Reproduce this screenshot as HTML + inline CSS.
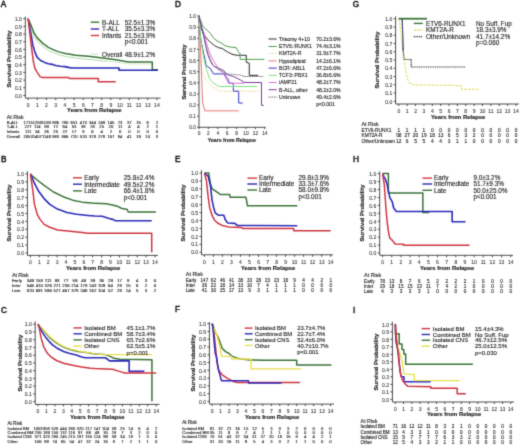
<!DOCTYPE html>
<html><head><meta charset="utf-8"><style>
html,body{margin:0;padding:0;background:#fff;width:520px;height:445px;overflow:hidden}
svg{display:block}
text{font-family:"Liberation Sans", sans-serif;stroke-width:0.12;paint-order:stroke}
</style></head><body>
<svg width="520" height="445" viewBox="0 0 520 445">
<defs><filter id="bl" filterUnits="userSpaceOnUse" x="0" y="0" width="520" height="445"><feConvolveMatrix order="3" kernelMatrix="0.0192 0.1001 0.0192 0.1001 0.5228 0.1001 0.0192 0.1001 0.0192" edgeMode="duplicate" preserveAlpha="false"/></filter></defs>
<rect width="520" height="445" fill="#fff"/>
<g filter="url(#bl)">
<line x1="25.30" y1="16.50" x2="25.30" y2="98.10" stroke="#3a3a3a" stroke-width="0.9" />
<line x1="25.30" y1="98.10" x2="160.50" y2="98.10" stroke="#3a3a3a" stroke-width="0.9" />
<line x1="23.30" y1="95.40" x2="25.30" y2="95.40" stroke="#3a3a3a" stroke-width="0.9" />
<text x="21.90" y="97.60" font-size="5.0" text-anchor="end" font-weight="normal" fill="#444" stroke="#444" >0.0</text>
<line x1="23.30" y1="87.73" x2="25.30" y2="87.73" stroke="#3a3a3a" stroke-width="0.9" />
<text x="21.90" y="89.93" font-size="5.0" text-anchor="end" font-weight="normal" fill="#444" stroke="#444" >0.1</text>
<line x1="23.30" y1="80.06" x2="25.30" y2="80.06" stroke="#3a3a3a" stroke-width="0.9" />
<text x="21.90" y="82.26" font-size="5.0" text-anchor="end" font-weight="normal" fill="#444" stroke="#444" >0.2</text>
<line x1="23.30" y1="72.39" x2="25.30" y2="72.39" stroke="#3a3a3a" stroke-width="0.9" />
<text x="21.90" y="74.59" font-size="5.0" text-anchor="end" font-weight="normal" fill="#444" stroke="#444" >0.3</text>
<line x1="23.30" y1="64.72" x2="25.30" y2="64.72" stroke="#3a3a3a" stroke-width="0.9" />
<text x="21.90" y="66.92" font-size="5.0" text-anchor="end" font-weight="normal" fill="#444" stroke="#444" >0.4</text>
<line x1="23.30" y1="57.05" x2="25.30" y2="57.05" stroke="#3a3a3a" stroke-width="0.9" />
<text x="21.90" y="59.25" font-size="5.0" text-anchor="end" font-weight="normal" fill="#444" stroke="#444" >0.5</text>
<line x1="23.30" y1="49.38" x2="25.30" y2="49.38" stroke="#3a3a3a" stroke-width="0.9" />
<text x="21.90" y="51.58" font-size="5.0" text-anchor="end" font-weight="normal" fill="#444" stroke="#444" >0.6</text>
<line x1="23.30" y1="41.71" x2="25.30" y2="41.71" stroke="#3a3a3a" stroke-width="0.9" />
<text x="21.90" y="43.91" font-size="5.0" text-anchor="end" font-weight="normal" fill="#444" stroke="#444" >0.7</text>
<line x1="23.30" y1="34.04" x2="25.30" y2="34.04" stroke="#3a3a3a" stroke-width="0.9" />
<text x="21.90" y="36.24" font-size="5.0" text-anchor="end" font-weight="normal" fill="#444" stroke="#444" >0.8</text>
<line x1="23.30" y1="26.37" x2="25.30" y2="26.37" stroke="#3a3a3a" stroke-width="0.9" />
<text x="21.90" y="28.57" font-size="5.0" text-anchor="end" font-weight="normal" fill="#444" stroke="#444" >0.9</text>
<line x1="23.30" y1="18.70" x2="25.30" y2="18.70" stroke="#3a3a3a" stroke-width="0.9" />
<text x="21.90" y="20.90" font-size="5.0" text-anchor="end" font-weight="normal" fill="#444" stroke="#444" >1.0</text>
<line x1="28.10" y1="98.10" x2="28.10" y2="100.10" stroke="#3a3a3a" stroke-width="0.9" />
<text x="28.10" y="106.80" font-size="5.0" text-anchor="middle" font-weight="normal" fill="#444" stroke="#444" >0</text>
<line x1="37.30" y1="98.10" x2="37.30" y2="100.10" stroke="#3a3a3a" stroke-width="0.9" />
<text x="37.30" y="106.80" font-size="5.0" text-anchor="middle" font-weight="normal" fill="#444" stroke="#444" >1</text>
<line x1="46.50" y1="98.10" x2="46.50" y2="100.10" stroke="#3a3a3a" stroke-width="0.9" />
<text x="46.50" y="106.80" font-size="5.0" text-anchor="middle" font-weight="normal" fill="#444" stroke="#444" >2</text>
<line x1="55.70" y1="98.10" x2="55.70" y2="100.10" stroke="#3a3a3a" stroke-width="0.9" />
<text x="55.70" y="106.80" font-size="5.0" text-anchor="middle" font-weight="normal" fill="#444" stroke="#444" >3</text>
<line x1="64.90" y1="98.10" x2="64.90" y2="100.10" stroke="#3a3a3a" stroke-width="0.9" />
<text x="64.90" y="106.80" font-size="5.0" text-anchor="middle" font-weight="normal" fill="#444" stroke="#444" >4</text>
<line x1="74.10" y1="98.10" x2="74.10" y2="100.10" stroke="#3a3a3a" stroke-width="0.9" />
<text x="74.10" y="106.80" font-size="5.0" text-anchor="middle" font-weight="normal" fill="#444" stroke="#444" >5</text>
<line x1="83.30" y1="98.10" x2="83.30" y2="100.10" stroke="#3a3a3a" stroke-width="0.9" />
<text x="83.30" y="106.80" font-size="5.0" text-anchor="middle" font-weight="normal" fill="#444" stroke="#444" >6</text>
<line x1="92.50" y1="98.10" x2="92.50" y2="100.10" stroke="#3a3a3a" stroke-width="0.9" />
<text x="92.50" y="106.80" font-size="5.0" text-anchor="middle" font-weight="normal" fill="#444" stroke="#444" >7</text>
<line x1="101.70" y1="98.10" x2="101.70" y2="100.10" stroke="#3a3a3a" stroke-width="0.9" />
<text x="101.70" y="106.80" font-size="5.0" text-anchor="middle" font-weight="normal" fill="#444" stroke="#444" >8</text>
<line x1="110.90" y1="98.10" x2="110.90" y2="100.10" stroke="#3a3a3a" stroke-width="0.9" />
<text x="110.90" y="106.80" font-size="5.0" text-anchor="middle" font-weight="normal" fill="#444" stroke="#444" >9</text>
<line x1="120.10" y1="98.10" x2="120.10" y2="100.10" stroke="#3a3a3a" stroke-width="0.9" />
<text x="120.10" y="106.80" font-size="5.0" text-anchor="middle" font-weight="normal" fill="#444" stroke="#444" >10</text>
<line x1="129.30" y1="98.10" x2="129.30" y2="100.10" stroke="#3a3a3a" stroke-width="0.9" />
<text x="129.30" y="106.80" font-size="5.0" text-anchor="middle" font-weight="normal" fill="#444" stroke="#444" >11</text>
<line x1="138.50" y1="98.10" x2="138.50" y2="100.10" stroke="#3a3a3a" stroke-width="0.9" />
<text x="138.50" y="106.80" font-size="5.0" text-anchor="middle" font-weight="normal" fill="#444" stroke="#444" >12</text>
<line x1="147.70" y1="98.10" x2="147.70" y2="100.10" stroke="#3a3a3a" stroke-width="0.9" />
<text x="147.70" y="106.80" font-size="5.0" text-anchor="middle" font-weight="normal" fill="#444" stroke="#444" >13</text>
<line x1="156.90" y1="98.10" x2="156.90" y2="100.10" stroke="#3a3a3a" stroke-width="0.9" />
<text x="156.90" y="106.80" font-size="5.0" text-anchor="middle" font-weight="normal" fill="#444" stroke="#444" >14</text>
<text x="94.30" y="112.31" font-size="5.86" text-anchor="middle" font-weight="bold" fill="#111" stroke="#111" >Years from Relapse</text>
<text x="0" y="0" font-size="6.1" font-weight="bold" text-anchor="middle" fill="#111" stroke="#111" transform="translate(11.00,59.00) rotate(-90)">Survival Probability</text>
<text x="0.80" y="6.60" font-size="8.2" text-anchor="start" font-weight="normal" fill="#111"  stroke="#111" style="stroke-width:0.45">A</text>
<path d="M28.10,18.70 L31.14,28.29 L33.90,35.96 L37.21,41.10 L42.82,46.70 L48.34,50.45 L54.14,53.06 L59.66,55.06 L65.27,56.36 L69.96,57.20 L75.39,58.05 L88.27,59.35 L106.48,61.27" fill="none" stroke="#a8d8a0" stroke-width="0.9" stroke-linejoin="round"  opacity="1"/>
<path d="M106.48,61.12 L128.38,63.95 L152.30,63.95" fill="none" stroke="#a8d8a0" stroke-width="1.0" stroke-linejoin="round" stroke-dasharray="1,0.8" opacity="1"/>
<path d="M28.10,18.70 L31.14,25.60 L33.90,32.74 L37.21,37.88 L42.82,43.40 L48.34,47.31 L54.14,50.15 L59.66,52.14 L65.27,53.45 L69.96,54.29 L75.39,55.21 L88.27,56.28 L106.48,58.43 L115.68,59.81 L128.38,62.04 L152.30,62.04 L152.30,69.71 L157.82,69.71" fill="none" stroke="#3b7439" stroke-width="1.5" stroke-linejoin="round"  opacity="1"/>
<path d="M28.10,18.70 L29.39,25.60 L31.14,34.42 L32.70,44.47 L35.00,52.37 L37.21,57.43 L40.61,60.50 L45.12,62.65 L48.34,63.80 L52.02,64.34 L55.70,65.49 L60.30,66.25 L64.90,66.64 L69.50,67.63 L74.10,67.94 L119.00,67.94 L119.00,70.24 L157.82,70.24" fill="none" stroke="#2a2ab6" stroke-width="1.6" stroke-linejoin="round"  opacity="1"/>
<path d="M28.10,18.70 L29.94,34.04 L31.60,47.85 L33.34,61.35 L35.00,68.56 L37.30,72.39 L40.06,76.61 L41.90,77.38 L68.58,77.61 L69.96,78.53 L98.30,78.53 L98.30,81.75 L115.68,81.75" fill="none" stroke="#d03641" stroke-width="1.5" stroke-linejoin="round"  opacity="1"/>
<line x1="90.80" y1="22.20" x2="99.10" y2="22.20" stroke="#3b7439" stroke-width="1.4" />
<text x="102.00" y="24.50" font-size="6.4" text-anchor="start" font-weight="normal" fill="#222" stroke="#222" >B-ALL</text>
<text x="124.70" y="24.50" font-size="6.4" text-anchor="start" font-weight="normal" fill="#222" stroke="#222" >52.5±1.3%</text>
<line x1="90.80" y1="29.00" x2="99.10" y2="29.00" stroke="#2a2ab6" stroke-width="1.4" />
<text x="102.00" y="31.30" font-size="6.4" text-anchor="start" font-weight="normal" fill="#222" stroke="#222" >T-ALL</text>
<text x="124.70" y="31.30" font-size="6.4" text-anchor="start" font-weight="normal" fill="#222" stroke="#222" >35.5±3.3%</text>
<line x1="90.80" y1="35.50" x2="99.10" y2="35.50" stroke="#d03641" stroke-width="1.4" />
<text x="102.00" y="37.80" font-size="6.4" text-anchor="start" font-weight="normal" fill="#222" stroke="#222" >Infants</text>
<text x="124.70" y="37.80" font-size="6.4" text-anchor="start" font-weight="normal" fill="#222" stroke="#222" >21.5±3.9%</text>
<text x="124.70" y="44.00" font-size="6.4" text-anchor="start" font-weight="normal" fill="#222" stroke="#222" >p&lt;0.001</text>
<line x1="90.80" y1="54.20" x2="99.10" y2="54.20" stroke="#a8d8a0" stroke-width="1.0" stroke-dasharray="1.2,0.8"/>
<text x="102.00" y="56.50" font-size="6.4" text-anchor="start" font-weight="normal" fill="#222" stroke="#222" >Overall</text>
<text x="124.70" y="56.50" font-size="6.4" text-anchor="start" font-weight="normal" fill="#222" stroke="#222" >48.9±1.2%</text>
<text x="6.80" y="118.71" font-size="5.3" text-anchor="start" font-weight="normal" fill="#222" stroke="#222" >At Risk</text>
<text x="6.80" y="124.11" font-size="4.2" text-anchor="start" font-weight="normal" fill="#222" stroke="#222" >B-ALL</text>
<text x="28.10" y="124.11" font-size="4.2" text-anchor="middle" font-weight="normal" fill="#222" stroke="#222" >1715</text>
<text x="37.30" y="124.11" font-size="4.2" text-anchor="middle" font-weight="normal" fill="#222" stroke="#222" >1259</text>
<text x="46.50" y="124.11" font-size="4.2" text-anchor="middle" font-weight="normal" fill="#222" stroke="#222" >1033</text>
<text x="55.70" y="124.11" font-size="4.2" text-anchor="middle" font-weight="normal" fill="#222" stroke="#222" >886</text>
<text x="64.90" y="124.11" font-size="4.2" text-anchor="middle" font-weight="normal" fill="#222" stroke="#222" >780</text>
<text x="74.10" y="124.11" font-size="4.2" text-anchor="middle" font-weight="normal" fill="#222" stroke="#222" >651</text>
<text x="83.30" y="124.11" font-size="4.2" text-anchor="middle" font-weight="normal" fill="#222" stroke="#222" >473</text>
<text x="92.50" y="124.11" font-size="4.2" text-anchor="middle" font-weight="normal" fill="#222" stroke="#222" >344</text>
<text x="101.70" y="124.11" font-size="4.2" text-anchor="middle" font-weight="normal" fill="#222" stroke="#222" >249</text>
<text x="110.90" y="124.11" font-size="4.2" text-anchor="middle" font-weight="normal" fill="#222" stroke="#222" >145</text>
<text x="120.10" y="124.11" font-size="4.2" text-anchor="middle" font-weight="normal" fill="#222" stroke="#222" >73</text>
<text x="129.30" y="124.11" font-size="4.2" text-anchor="middle" font-weight="normal" fill="#222" stroke="#222" >37</text>
<text x="138.50" y="124.11" font-size="4.2" text-anchor="middle" font-weight="normal" fill="#222" stroke="#222" >15</text>
<text x="147.70" y="124.11" font-size="4.2" text-anchor="middle" font-weight="normal" fill="#222" stroke="#222" >6</text>
<text x="156.90" y="124.11" font-size="4.2" text-anchor="middle" font-weight="normal" fill="#222" stroke="#222" >2</text>
<text x="6.80" y="128.41" font-size="4.2" text-anchor="start" font-weight="normal" fill="#222" stroke="#222" >T-ALL</text>
<text x="28.10" y="128.41" font-size="4.2" text-anchor="middle" font-weight="normal" fill="#222" stroke="#222" >227</text>
<text x="37.30" y="128.41" font-size="4.2" text-anchor="middle" font-weight="normal" fill="#222" stroke="#222" >114</text>
<text x="46.50" y="128.41" font-size="4.2" text-anchor="middle" font-weight="normal" fill="#222" stroke="#222" >89</text>
<text x="55.70" y="128.41" font-size="4.2" text-anchor="middle" font-weight="normal" fill="#222" stroke="#222" >72</text>
<text x="64.90" y="128.41" font-size="4.2" text-anchor="middle" font-weight="normal" fill="#222" stroke="#222" >64</text>
<text x="74.10" y="128.41" font-size="4.2" text-anchor="middle" font-weight="normal" fill="#222" stroke="#222" >53</text>
<text x="83.30" y="128.41" font-size="4.2" text-anchor="middle" font-weight="normal" fill="#222" stroke="#222" >38</text>
<text x="92.50" y="128.41" font-size="4.2" text-anchor="middle" font-weight="normal" fill="#222" stroke="#222" >28</text>
<text x="101.70" y="128.41" font-size="4.2" text-anchor="middle" font-weight="normal" fill="#222" stroke="#222" >25</text>
<text x="110.90" y="128.41" font-size="4.2" text-anchor="middle" font-weight="normal" fill="#222" stroke="#222" >20</text>
<text x="120.10" y="128.41" font-size="4.2" text-anchor="middle" font-weight="normal" fill="#222" stroke="#222" >11</text>
<text x="129.30" y="128.41" font-size="4.2" text-anchor="middle" font-weight="normal" fill="#222" stroke="#222" >4</text>
<text x="138.50" y="128.41" font-size="4.2" text-anchor="middle" font-weight="normal" fill="#222" stroke="#222" >4</text>
<text x="147.70" y="128.41" font-size="4.2" text-anchor="middle" font-weight="normal" fill="#222" stroke="#222" >2</text>
<text x="156.90" y="128.41" font-size="4.2" text-anchor="middle" font-weight="normal" fill="#222" stroke="#222" >1</text>
<text x="6.80" y="133.11" font-size="4.2" text-anchor="start" font-weight="normal" fill="#222" stroke="#222" >Infants</text>
<text x="28.10" y="133.11" font-size="4.2" text-anchor="middle" font-weight="normal" fill="#222" stroke="#222" >111</text>
<text x="37.30" y="133.11" font-size="4.2" text-anchor="middle" font-weight="normal" fill="#222" stroke="#222" >34</text>
<text x="46.50" y="133.11" font-size="4.2" text-anchor="middle" font-weight="normal" fill="#222" stroke="#222" >26</text>
<text x="55.70" y="133.11" font-size="4.2" text-anchor="middle" font-weight="normal" fill="#222" stroke="#222" >25</text>
<text x="64.90" y="133.11" font-size="4.2" text-anchor="middle" font-weight="normal" fill="#222" stroke="#222" >22</text>
<text x="74.10" y="133.11" font-size="4.2" text-anchor="middle" font-weight="normal" fill="#222" stroke="#222" >17</text>
<text x="83.30" y="133.11" font-size="4.2" text-anchor="middle" font-weight="normal" fill="#222" stroke="#222" >8</text>
<text x="92.50" y="133.11" font-size="4.2" text-anchor="middle" font-weight="normal" fill="#222" stroke="#222" >6</text>
<text x="101.70" y="133.11" font-size="4.2" text-anchor="middle" font-weight="normal" fill="#222" stroke="#222" >4</text>
<text x="110.90" y="133.11" font-size="4.2" text-anchor="middle" font-weight="normal" fill="#222" stroke="#222" >2</text>
<text x="120.10" y="133.11" font-size="4.2" text-anchor="middle" font-weight="normal" fill="#222" stroke="#222" >0</text>
<text x="129.30" y="133.11" font-size="4.2" text-anchor="middle" font-weight="normal" fill="#222" stroke="#222" >0</text>
<text x="138.50" y="133.11" font-size="4.2" text-anchor="middle" font-weight="normal" fill="#222" stroke="#222" >0</text>
<text x="147.70" y="133.11" font-size="4.2" text-anchor="middle" font-weight="normal" fill="#222" stroke="#222" >0</text>
<text x="156.90" y="133.11" font-size="4.2" text-anchor="middle" font-weight="normal" fill="#222" stroke="#222" >0</text>
<text x="6.80" y="138.01" font-size="4.2" text-anchor="start" font-weight="normal" fill="#222" stroke="#222" >Overall</text>
<text x="28.10" y="138.01" font-size="4.2" text-anchor="middle" font-weight="normal" fill="#222" stroke="#222" >2053</text>
<text x="37.30" y="138.01" font-size="4.2" text-anchor="middle" font-weight="normal" fill="#222" stroke="#222" >1407</text>
<text x="46.50" y="138.01" font-size="4.2" text-anchor="middle" font-weight="normal" fill="#222" stroke="#222" >1148</text>
<text x="55.70" y="138.01" font-size="4.2" text-anchor="middle" font-weight="normal" fill="#222" stroke="#222" >983</text>
<text x="64.90" y="138.01" font-size="4.2" text-anchor="middle" font-weight="normal" fill="#222" stroke="#222" >866</text>
<text x="74.10" y="138.01" font-size="4.2" text-anchor="middle" font-weight="normal" fill="#222" stroke="#222" >720</text>
<text x="83.30" y="138.01" font-size="4.2" text-anchor="middle" font-weight="normal" fill="#222" stroke="#222" >520</text>
<text x="92.50" y="138.01" font-size="4.2" text-anchor="middle" font-weight="normal" fill="#222" stroke="#222" >378</text>
<text x="101.70" y="138.01" font-size="4.2" text-anchor="middle" font-weight="normal" fill="#222" stroke="#222" >278</text>
<text x="110.90" y="138.01" font-size="4.2" text-anchor="middle" font-weight="normal" fill="#222" stroke="#222" >167</text>
<text x="120.10" y="138.01" font-size="4.2" text-anchor="middle" font-weight="normal" fill="#222" stroke="#222" >84</text>
<text x="129.30" y="138.01" font-size="4.2" text-anchor="middle" font-weight="normal" fill="#222" stroke="#222" >41</text>
<text x="138.50" y="138.01" font-size="4.2" text-anchor="middle" font-weight="normal" fill="#222" stroke="#222" >19</text>
<text x="147.70" y="138.01" font-size="4.2" text-anchor="middle" font-weight="normal" fill="#222" stroke="#222" >10</text>
<text x="156.90" y="138.01" font-size="4.2" text-anchor="middle" font-weight="normal" fill="#222" stroke="#222" >3</text>
<line x1="27.40" y1="171.20" x2="27.40" y2="255.40" stroke="#3a3a3a" stroke-width="0.9" />
<line x1="27.40" y1="255.40" x2="158.00" y2="255.40" stroke="#3a3a3a" stroke-width="0.9" />
<line x1="25.40" y1="253.00" x2="27.40" y2="253.00" stroke="#3a3a3a" stroke-width="0.9" />
<text x="24.00" y="255.20" font-size="5.0" text-anchor="end" font-weight="normal" fill="#444" stroke="#444" >0.0</text>
<line x1="25.40" y1="245.09" x2="27.40" y2="245.09" stroke="#3a3a3a" stroke-width="0.9" />
<text x="24.00" y="247.29" font-size="5.0" text-anchor="end" font-weight="normal" fill="#444" stroke="#444" >0.1</text>
<line x1="25.40" y1="237.18" x2="27.40" y2="237.18" stroke="#3a3a3a" stroke-width="0.9" />
<text x="24.00" y="239.38" font-size="5.0" text-anchor="end" font-weight="normal" fill="#444" stroke="#444" >0.2</text>
<line x1="25.40" y1="229.27" x2="27.40" y2="229.27" stroke="#3a3a3a" stroke-width="0.9" />
<text x="24.00" y="231.47" font-size="5.0" text-anchor="end" font-weight="normal" fill="#444" stroke="#444" >0.3</text>
<line x1="25.40" y1="221.36" x2="27.40" y2="221.36" stroke="#3a3a3a" stroke-width="0.9" />
<text x="24.00" y="223.56" font-size="5.0" text-anchor="end" font-weight="normal" fill="#444" stroke="#444" >0.4</text>
<line x1="25.40" y1="213.45" x2="27.40" y2="213.45" stroke="#3a3a3a" stroke-width="0.9" />
<text x="24.00" y="215.65" font-size="5.0" text-anchor="end" font-weight="normal" fill="#444" stroke="#444" >0.5</text>
<line x1="25.40" y1="205.54" x2="27.40" y2="205.54" stroke="#3a3a3a" stroke-width="0.9" />
<text x="24.00" y="207.74" font-size="5.0" text-anchor="end" font-weight="normal" fill="#444" stroke="#444" >0.6</text>
<line x1="25.40" y1="197.63" x2="27.40" y2="197.63" stroke="#3a3a3a" stroke-width="0.9" />
<text x="24.00" y="199.83" font-size="5.0" text-anchor="end" font-weight="normal" fill="#444" stroke="#444" >0.7</text>
<line x1="25.40" y1="189.72" x2="27.40" y2="189.72" stroke="#3a3a3a" stroke-width="0.9" />
<text x="24.00" y="191.92" font-size="5.0" text-anchor="end" font-weight="normal" fill="#444" stroke="#444" >0.8</text>
<line x1="25.40" y1="181.81" x2="27.40" y2="181.81" stroke="#3a3a3a" stroke-width="0.9" />
<text x="24.00" y="184.01" font-size="5.0" text-anchor="end" font-weight="normal" fill="#444" stroke="#444" >0.9</text>
<line x1="25.40" y1="173.90" x2="27.40" y2="173.90" stroke="#3a3a3a" stroke-width="0.9" />
<text x="24.00" y="176.10" font-size="5.0" text-anchor="end" font-weight="normal" fill="#444" stroke="#444" >1.0</text>
<line x1="30.40" y1="255.40" x2="30.40" y2="257.40" stroke="#3a3a3a" stroke-width="0.9" />
<text x="30.40" y="264.00" font-size="5.0" text-anchor="middle" font-weight="normal" fill="#444" stroke="#444" >0</text>
<line x1="39.30" y1="255.40" x2="39.30" y2="257.40" stroke="#3a3a3a" stroke-width="0.9" />
<text x="39.30" y="264.00" font-size="5.0" text-anchor="middle" font-weight="normal" fill="#444" stroke="#444" >1</text>
<line x1="48.20" y1="255.40" x2="48.20" y2="257.40" stroke="#3a3a3a" stroke-width="0.9" />
<text x="48.20" y="264.00" font-size="5.0" text-anchor="middle" font-weight="normal" fill="#444" stroke="#444" >2</text>
<line x1="57.10" y1="255.40" x2="57.10" y2="257.40" stroke="#3a3a3a" stroke-width="0.9" />
<text x="57.10" y="264.00" font-size="5.0" text-anchor="middle" font-weight="normal" fill="#444" stroke="#444" >3</text>
<line x1="66.00" y1="255.40" x2="66.00" y2="257.40" stroke="#3a3a3a" stroke-width="0.9" />
<text x="66.00" y="264.00" font-size="5.0" text-anchor="middle" font-weight="normal" fill="#444" stroke="#444" >4</text>
<line x1="74.90" y1="255.40" x2="74.90" y2="257.40" stroke="#3a3a3a" stroke-width="0.9" />
<text x="74.90" y="264.00" font-size="5.0" text-anchor="middle" font-weight="normal" fill="#444" stroke="#444" >5</text>
<line x1="83.80" y1="255.40" x2="83.80" y2="257.40" stroke="#3a3a3a" stroke-width="0.9" />
<text x="83.80" y="264.00" font-size="5.0" text-anchor="middle" font-weight="normal" fill="#444" stroke="#444" >6</text>
<line x1="92.70" y1="255.40" x2="92.70" y2="257.40" stroke="#3a3a3a" stroke-width="0.9" />
<text x="92.70" y="264.00" font-size="5.0" text-anchor="middle" font-weight="normal" fill="#444" stroke="#444" >7</text>
<line x1="101.60" y1="255.40" x2="101.60" y2="257.40" stroke="#3a3a3a" stroke-width="0.9" />
<text x="101.60" y="264.00" font-size="5.0" text-anchor="middle" font-weight="normal" fill="#444" stroke="#444" >8</text>
<line x1="110.50" y1="255.40" x2="110.50" y2="257.40" stroke="#3a3a3a" stroke-width="0.9" />
<text x="110.50" y="264.00" font-size="5.0" text-anchor="middle" font-weight="normal" fill="#444" stroke="#444" >9</text>
<line x1="119.40" y1="255.40" x2="119.40" y2="257.40" stroke="#3a3a3a" stroke-width="0.9" />
<text x="119.40" y="264.00" font-size="5.0" text-anchor="middle" font-weight="normal" fill="#444" stroke="#444" >10</text>
<line x1="128.30" y1="255.40" x2="128.30" y2="257.40" stroke="#3a3a3a" stroke-width="0.9" />
<text x="128.30" y="264.00" font-size="5.0" text-anchor="middle" font-weight="normal" fill="#444" stroke="#444" >11</text>
<line x1="137.20" y1="255.40" x2="137.20" y2="257.40" stroke="#3a3a3a" stroke-width="0.9" />
<text x="137.20" y="264.00" font-size="5.0" text-anchor="middle" font-weight="normal" fill="#444" stroke="#444" >12</text>
<line x1="146.10" y1="255.40" x2="146.10" y2="257.40" stroke="#3a3a3a" stroke-width="0.9" />
<text x="146.10" y="264.00" font-size="5.0" text-anchor="middle" font-weight="normal" fill="#444" stroke="#444" >13</text>
<line x1="155.00" y1="255.40" x2="155.00" y2="257.40" stroke="#3a3a3a" stroke-width="0.9" />
<text x="155.00" y="264.00" font-size="5.0" text-anchor="middle" font-weight="normal" fill="#444" stroke="#444" >14</text>
<text x="93.10" y="270.11" font-size="5.86" text-anchor="middle" font-weight="bold" fill="#111" stroke="#111" >Years from Relapse</text>
<text x="0" y="0" font-size="6.1" font-weight="bold" text-anchor="middle" fill="#111" stroke="#111" transform="translate(11.30,213.00) rotate(-90)">Survival Probability</text>
<text x="0.90" y="161.60" font-size="8.2" text-anchor="start" font-weight="normal" fill="#111"  stroke="#111" style="stroke-width:0.45">B</text>
<path d="M30.40,173.90 L33.07,176.67 L36.54,179.52 L44.11,185.29 L53.54,192.01 L63.15,196.68 L72.67,200.16 L82.29,202.14 L91.81,203.01 L95.01,203.17 L106.32,203.80 L113.44,205.22 L117.62,206.33 L121.89,208.47 L126.88,209.18 L128.30,212.03 L155.89,212.03" fill="none" stroke="#3b7439" stroke-width="1.5" stroke-linejoin="round"  opacity="1"/>
<path d="M30.40,173.90 L34.49,183.39 L38.41,190.99 L44.11,198.58 L49.80,204.43 L57.46,209.10 L66.98,212.42 L76.59,214.32 L87.98,215.43 L95.01,215.98 L102.13,216.30 L109.16,218.43 L112.72,219.38 L115.48,220.81 L151.71,220.81" fill="none" stroke="#2a2ab6" stroke-width="1.6" stroke-linejoin="round"  opacity="1"/>
<path d="M30.40,173.90 L32.62,189.09 L34.49,204.43 L37.43,214.87 L40.28,219.62 L44.11,224.37 L49.80,227.29 L57.46,230.06 L72.67,231.48 L82.29,232.59 L87.98,233.30 L151.71,233.30 L151.71,252.37" fill="none" stroke="#d03641" stroke-width="1.5" stroke-linejoin="round"  opacity="1"/>
<line x1="73.00" y1="177.80" x2="81.90" y2="177.80" stroke="#d03641" stroke-width="1.4" />
<text x="84.30" y="180.10" font-size="6.4" text-anchor="start" font-weight="normal" fill="#222" stroke="#222" >Early</text>
<text x="123.80" y="180.10" font-size="6.4" text-anchor="start" font-weight="normal" fill="#222" stroke="#222" >25.8±2.4%</text>
<line x1="73.00" y1="184.20" x2="81.90" y2="184.20" stroke="#2a2ab6" stroke-width="1.4" />
<text x="84.30" y="186.50" font-size="6.4" text-anchor="start" font-weight="normal" fill="#222" stroke="#222" >Intermediate</text>
<text x="123.80" y="186.50" font-size="6.4" text-anchor="start" font-weight="normal" fill="#222" stroke="#222" >49.5±2.2%</text>
<line x1="73.00" y1="190.90" x2="81.90" y2="190.90" stroke="#3b7439" stroke-width="1.4" />
<text x="84.30" y="193.20" font-size="6.4" text-anchor="start" font-weight="normal" fill="#222" stroke="#222" >Late</text>
<text x="123.80" y="193.20" font-size="6.4" text-anchor="start" font-weight="normal" fill="#222" stroke="#222" >66.4±1.8%</text>
<text x="123.80" y="199.80" font-size="6.4" text-anchor="start" font-weight="normal" fill="#222" stroke="#222" >p&lt;0.001</text>
<text x="11.90" y="277.01" font-size="5.3" text-anchor="start" font-weight="normal" fill="#222" stroke="#222" >At Risk</text>
<text x="11.90" y="282.28" font-size="4.4" text-anchor="start" font-weight="normal" fill="#222" stroke="#222" >Early</text>
<text x="30.40" y="282.28" font-size="4.4" text-anchor="middle" font-weight="normal" fill="#222" stroke="#222" >349</text>
<text x="39.30" y="282.28" font-size="4.4" text-anchor="middle" font-weight="normal" fill="#222" stroke="#222" >158</text>
<text x="48.20" y="282.28" font-size="4.4" text-anchor="middle" font-weight="normal" fill="#222" stroke="#222" >111</text>
<text x="57.10" y="282.28" font-size="4.4" text-anchor="middle" font-weight="normal" fill="#222" stroke="#222" >88</text>
<text x="66.00" y="282.28" font-size="4.4" text-anchor="middle" font-weight="normal" fill="#222" stroke="#222" >77</text>
<text x="74.90" y="282.28" font-size="4.4" text-anchor="middle" font-weight="normal" fill="#222" stroke="#222" >59</text>
<text x="83.80" y="282.28" font-size="4.4" text-anchor="middle" font-weight="normal" fill="#222" stroke="#222" >49</text>
<text x="92.70" y="282.28" font-size="4.4" text-anchor="middle" font-weight="normal" fill="#222" stroke="#222" >39</text>
<text x="101.60" y="282.28" font-size="4.4" text-anchor="middle" font-weight="normal" fill="#222" stroke="#222" >36</text>
<text x="110.50" y="282.28" font-size="4.4" text-anchor="middle" font-weight="normal" fill="#222" stroke="#222" >29</text>
<text x="119.40" y="282.28" font-size="4.4" text-anchor="middle" font-weight="normal" fill="#222" stroke="#222" >17</text>
<text x="128.30" y="282.28" font-size="4.4" text-anchor="middle" font-weight="normal" fill="#222" stroke="#222" >8</text>
<text x="137.20" y="282.28" font-size="4.4" text-anchor="middle" font-weight="normal" fill="#222" stroke="#222" >4</text>
<text x="146.10" y="282.28" font-size="4.4" text-anchor="middle" font-weight="normal" fill="#222" stroke="#222" >3</text>
<text x="155.00" y="282.28" font-size="4.4" text-anchor="middle" font-weight="normal" fill="#222" stroke="#222" >0</text>
<text x="11.90" y="287.38" font-size="4.4" text-anchor="start" font-weight="normal" fill="#222" stroke="#222" >Inter</text>
<text x="30.40" y="287.38" font-size="4.4" text-anchor="middle" font-weight="normal" fill="#222" stroke="#222" >546</text>
<text x="39.30" y="287.38" font-size="4.4" text-anchor="middle" font-weight="normal" fill="#222" stroke="#222" >410</text>
<text x="48.20" y="287.38" font-size="4.4" text-anchor="middle" font-weight="normal" fill="#222" stroke="#222" >326</text>
<text x="57.10" y="287.38" font-size="4.4" text-anchor="middle" font-weight="normal" fill="#222" stroke="#222" >271</text>
<text x="66.00" y="287.38" font-size="4.4" text-anchor="middle" font-weight="normal" fill="#222" stroke="#222" >236</text>
<text x="74.90" y="287.38" font-size="4.4" text-anchor="middle" font-weight="normal" fill="#222" stroke="#222" >214</text>
<text x="83.80" y="287.38" font-size="4.4" text-anchor="middle" font-weight="normal" fill="#222" stroke="#222" >178</text>
<text x="92.70" y="287.38" font-size="4.4" text-anchor="middle" font-weight="normal" fill="#222" stroke="#222" >143</text>
<text x="101.60" y="287.38" font-size="4.4" text-anchor="middle" font-weight="normal" fill="#222" stroke="#222" >109</text>
<text x="110.50" y="287.38" font-size="4.4" text-anchor="middle" font-weight="normal" fill="#222" stroke="#222" >64</text>
<text x="119.40" y="287.38" font-size="4.4" text-anchor="middle" font-weight="normal" fill="#222" stroke="#222" >28</text>
<text x="128.30" y="287.38" font-size="4.4" text-anchor="middle" font-weight="normal" fill="#222" stroke="#222" >15</text>
<text x="137.20" y="287.38" font-size="4.4" text-anchor="middle" font-weight="normal" fill="#222" stroke="#222" >6</text>
<text x="146.10" y="287.38" font-size="4.4" text-anchor="middle" font-weight="normal" fill="#222" stroke="#222" >2</text>
<text x="155.00" y="287.38" font-size="4.4" text-anchor="middle" font-weight="normal" fill="#222" stroke="#222" >0</text>
<text x="11.90" y="292.28" font-size="4.4" text-anchor="start" font-weight="normal" fill="#222" stroke="#222" >Late</text>
<text x="30.40" y="292.28" font-size="4.4" text-anchor="middle" font-weight="normal" fill="#222" stroke="#222" >820</text>
<text x="39.30" y="292.28" font-size="4.4" text-anchor="middle" font-weight="normal" fill="#222" stroke="#222" >691</text>
<text x="48.20" y="292.28" font-size="4.4" text-anchor="middle" font-weight="normal" fill="#222" stroke="#222" >596</text>
<text x="57.10" y="292.28" font-size="4.4" text-anchor="middle" font-weight="normal" fill="#222" stroke="#222" >527</text>
<text x="66.00" y="292.28" font-size="4.4" text-anchor="middle" font-weight="normal" fill="#222" stroke="#222" >467</text>
<text x="74.90" y="292.28" font-size="4.4" text-anchor="middle" font-weight="normal" fill="#222" stroke="#222" >378</text>
<text x="83.80" y="292.28" font-size="4.4" text-anchor="middle" font-weight="normal" fill="#222" stroke="#222" >246</text>
<text x="92.70" y="292.28" font-size="4.4" text-anchor="middle" font-weight="normal" fill="#222" stroke="#222" >162</text>
<text x="101.60" y="292.28" font-size="4.4" text-anchor="middle" font-weight="normal" fill="#222" stroke="#222" >104</text>
<text x="110.50" y="292.28" font-size="4.4" text-anchor="middle" font-weight="normal" fill="#222" stroke="#222" >52</text>
<text x="119.40" y="292.28" font-size="4.4" text-anchor="middle" font-weight="normal" fill="#222" stroke="#222" >28</text>
<text x="128.30" y="292.28" font-size="4.4" text-anchor="middle" font-weight="normal" fill="#222" stroke="#222" >14</text>
<text x="137.20" y="292.28" font-size="4.4" text-anchor="middle" font-weight="normal" fill="#222" stroke="#222" >5</text>
<text x="146.10" y="292.28" font-size="4.4" text-anchor="middle" font-weight="normal" fill="#222" stroke="#222" >3</text>
<text x="155.00" y="292.28" font-size="4.4" text-anchor="middle" font-weight="normal" fill="#222" stroke="#222" >2</text>
<line x1="35.20" y1="321.30" x2="35.20" y2="404.40" stroke="#3a3a3a" stroke-width="0.9" />
<line x1="35.20" y1="404.40" x2="159.50" y2="404.40" stroke="#3a3a3a" stroke-width="0.9" />
<line x1="33.20" y1="401.60" x2="35.20" y2="401.60" stroke="#3a3a3a" stroke-width="0.9" />
<text x="31.80" y="403.80" font-size="5.0" text-anchor="end" font-weight="normal" fill="#444" stroke="#444" >0.0</text>
<line x1="33.20" y1="393.86" x2="35.20" y2="393.86" stroke="#3a3a3a" stroke-width="0.9" />
<text x="31.80" y="396.06" font-size="5.0" text-anchor="end" font-weight="normal" fill="#444" stroke="#444" >0.1</text>
<line x1="33.20" y1="386.12" x2="35.20" y2="386.12" stroke="#3a3a3a" stroke-width="0.9" />
<text x="31.80" y="388.32" font-size="5.0" text-anchor="end" font-weight="normal" fill="#444" stroke="#444" >0.2</text>
<line x1="33.20" y1="378.38" x2="35.20" y2="378.38" stroke="#3a3a3a" stroke-width="0.9" />
<text x="31.80" y="380.58" font-size="5.0" text-anchor="end" font-weight="normal" fill="#444" stroke="#444" >0.3</text>
<line x1="33.20" y1="370.64" x2="35.20" y2="370.64" stroke="#3a3a3a" stroke-width="0.9" />
<text x="31.80" y="372.84" font-size="5.0" text-anchor="end" font-weight="normal" fill="#444" stroke="#444" >0.4</text>
<line x1="33.20" y1="362.90" x2="35.20" y2="362.90" stroke="#3a3a3a" stroke-width="0.9" />
<text x="31.80" y="365.10" font-size="5.0" text-anchor="end" font-weight="normal" fill="#444" stroke="#444" >0.5</text>
<line x1="33.20" y1="355.16" x2="35.20" y2="355.16" stroke="#3a3a3a" stroke-width="0.9" />
<text x="31.80" y="357.36" font-size="5.0" text-anchor="end" font-weight="normal" fill="#444" stroke="#444" >0.6</text>
<line x1="33.20" y1="347.42" x2="35.20" y2="347.42" stroke="#3a3a3a" stroke-width="0.9" />
<text x="31.80" y="349.62" font-size="5.0" text-anchor="end" font-weight="normal" fill="#444" stroke="#444" >0.7</text>
<line x1="33.20" y1="339.68" x2="35.20" y2="339.68" stroke="#3a3a3a" stroke-width="0.9" />
<text x="31.80" y="341.88" font-size="5.0" text-anchor="end" font-weight="normal" fill="#444" stroke="#444" >0.8</text>
<line x1="33.20" y1="331.94" x2="35.20" y2="331.94" stroke="#3a3a3a" stroke-width="0.9" />
<text x="31.80" y="334.14" font-size="5.0" text-anchor="end" font-weight="normal" fill="#444" stroke="#444" >0.9</text>
<line x1="33.20" y1="324.20" x2="35.20" y2="324.20" stroke="#3a3a3a" stroke-width="0.9" />
<text x="31.80" y="326.40" font-size="5.0" text-anchor="end" font-weight="normal" fill="#444" stroke="#444" >1.0</text>
<line x1="38.00" y1="404.40" x2="38.00" y2="406.40" stroke="#3a3a3a" stroke-width="0.9" />
<text x="38.00" y="413.10" font-size="5.0" text-anchor="middle" font-weight="normal" fill="#444" stroke="#444" >0</text>
<line x1="46.44" y1="404.40" x2="46.44" y2="406.40" stroke="#3a3a3a" stroke-width="0.9" />
<text x="46.44" y="413.10" font-size="5.0" text-anchor="middle" font-weight="normal" fill="#444" stroke="#444" >1</text>
<line x1="54.88" y1="404.40" x2="54.88" y2="406.40" stroke="#3a3a3a" stroke-width="0.9" />
<text x="54.88" y="413.10" font-size="5.0" text-anchor="middle" font-weight="normal" fill="#444" stroke="#444" >2</text>
<line x1="63.32" y1="404.40" x2="63.32" y2="406.40" stroke="#3a3a3a" stroke-width="0.9" />
<text x="63.32" y="413.10" font-size="5.0" text-anchor="middle" font-weight="normal" fill="#444" stroke="#444" >3</text>
<line x1="71.76" y1="404.40" x2="71.76" y2="406.40" stroke="#3a3a3a" stroke-width="0.9" />
<text x="71.76" y="413.10" font-size="5.0" text-anchor="middle" font-weight="normal" fill="#444" stroke="#444" >4</text>
<line x1="80.20" y1="404.40" x2="80.20" y2="406.40" stroke="#3a3a3a" stroke-width="0.9" />
<text x="80.20" y="413.10" font-size="5.0" text-anchor="middle" font-weight="normal" fill="#444" stroke="#444" >5</text>
<line x1="88.64" y1="404.40" x2="88.64" y2="406.40" stroke="#3a3a3a" stroke-width="0.9" />
<text x="88.64" y="413.10" font-size="5.0" text-anchor="middle" font-weight="normal" fill="#444" stroke="#444" >6</text>
<line x1="97.08" y1="404.40" x2="97.08" y2="406.40" stroke="#3a3a3a" stroke-width="0.9" />
<text x="97.08" y="413.10" font-size="5.0" text-anchor="middle" font-weight="normal" fill="#444" stroke="#444" >7</text>
<line x1="105.52" y1="404.40" x2="105.52" y2="406.40" stroke="#3a3a3a" stroke-width="0.9" />
<text x="105.52" y="413.10" font-size="5.0" text-anchor="middle" font-weight="normal" fill="#444" stroke="#444" >8</text>
<line x1="113.96" y1="404.40" x2="113.96" y2="406.40" stroke="#3a3a3a" stroke-width="0.9" />
<text x="113.96" y="413.10" font-size="5.0" text-anchor="middle" font-weight="normal" fill="#444" stroke="#444" >9</text>
<line x1="122.40" y1="404.40" x2="122.40" y2="406.40" stroke="#3a3a3a" stroke-width="0.9" />
<text x="122.40" y="413.10" font-size="5.0" text-anchor="middle" font-weight="normal" fill="#444" stroke="#444" >10</text>
<line x1="130.84" y1="404.40" x2="130.84" y2="406.40" stroke="#3a3a3a" stroke-width="0.9" />
<text x="130.84" y="413.10" font-size="5.0" text-anchor="middle" font-weight="normal" fill="#444" stroke="#444" >11</text>
<line x1="139.28" y1="404.40" x2="139.28" y2="406.40" stroke="#3a3a3a" stroke-width="0.9" />
<text x="139.28" y="413.10" font-size="5.0" text-anchor="middle" font-weight="normal" fill="#444" stroke="#444" >12</text>
<line x1="147.72" y1="404.40" x2="147.72" y2="406.40" stroke="#3a3a3a" stroke-width="0.9" />
<text x="147.72" y="413.10" font-size="5.0" text-anchor="middle" font-weight="normal" fill="#444" stroke="#444" >13</text>
<line x1="156.16" y1="404.40" x2="156.16" y2="406.40" stroke="#3a3a3a" stroke-width="0.9" />
<text x="156.16" y="413.10" font-size="5.0" text-anchor="middle" font-weight="normal" fill="#444" stroke="#444" >14</text>
<text x="97.40" y="418.71" font-size="5.86" text-anchor="middle" font-weight="bold" fill="#111" stroke="#111" >Years from Relapse</text>
<text x="0" y="0" font-size="6.1" font-weight="bold" text-anchor="middle" fill="#111" stroke="#111" transform="translate(21.70,363.00) rotate(-90)">Survival Probability</text>
<text x="0.90" y="312.60" font-size="8.2" text-anchor="start" font-weight="normal" fill="#111"  stroke="#111" style="stroke-width:0.45">C</text>
<path d="M38.00,324.20 L40.53,327.30 L43.82,330.78 L49.23,337.13 L54.63,341.62 L59.94,345.18 L65.43,347.88 L70.83,349.74 L78.01,351.52 L85.26,352.37 L90.58,353.30 L94.97,353.92 L105.18,354.62 L109.57,356.09 L113.96,358.33 L119.87,359.34 L151.94,359.73 L151.94,401.37" fill="none" stroke="#3b7439" stroke-width="1.5" stroke-linejoin="round"  opacity="1"/>
<path d="M38.00,324.20 L40.53,326.52 L43.82,330.00 L49.23,336.20 L54.63,340.84 L59.94,344.48 L65.43,347.19 L70.83,349.12 L78.01,350.90 L85.26,352.06 L90.58,352.84 L94.97,354.00 L102.99,354.62 L151.94,354.62" fill="none" stroke="#e8e050" stroke-width="1.2" stroke-linejoin="round"  opacity="1"/>
<path d="M38.00,324.20 L41.97,331.71 L45.60,337.13 L49.23,341.62 L52.77,345.18 L58.17,348.81 L63.57,351.52 L68.97,353.30 L76.23,355.08 L81.63,356.94 L85.26,357.79 L94.97,357.79 L105.18,357.79 L107.21,359.03 L109.57,360.89 L129.15,360.89 L129.15,371.41 L144.34,371.41" fill="none" stroke="#2a2ab6" stroke-width="1.6" stroke-linejoin="round"  opacity="1"/>
<path d="M38.00,324.20 L39.27,328.07 L41.12,338.13 L43.82,347.03 L47.37,353.30 L51.00,356.94 L56.40,360.50 L63.57,363.21 L72.60,365.30 L81.63,367.08 L90.58,368.16 L94.97,368.47 L112.27,369.17 L116.91,370.64 L124.09,372.88 L156.16,372.88" fill="none" stroke="#d03641" stroke-width="1.5" stroke-linejoin="round"  opacity="1"/>
<line x1="73.50" y1="327.90" x2="81.80" y2="327.90" stroke="#d03641" stroke-width="1.4" />
<text x="84.20" y="330.06" font-size="6.0" text-anchor="start" font-weight="normal" fill="#222" stroke="#222" >Isolated BM</text>
<text x="126.60" y="330.06" font-size="6.0" text-anchor="start" font-weight="normal" fill="#222" stroke="#222" >45.1±1.7%</text>
<line x1="73.50" y1="333.80" x2="81.80" y2="333.80" stroke="#2a2ab6" stroke-width="1.4" />
<text x="84.20" y="335.96" font-size="6.0" text-anchor="start" font-weight="normal" fill="#222" stroke="#222" >Combined BM</text>
<text x="126.60" y="335.96" font-size="6.0" text-anchor="start" font-weight="normal" fill="#222" stroke="#222" >58.7±3.4%</text>
<line x1="73.50" y1="339.90" x2="81.80" y2="339.90" stroke="#3b7439" stroke-width="1.4" />
<text x="84.20" y="342.06" font-size="6.0" text-anchor="start" font-weight="normal" fill="#222" stroke="#222" >Isolated CNS</text>
<text x="126.60" y="342.06" font-size="6.0" text-anchor="start" font-weight="normal" fill="#222" stroke="#222" >65.7±2.6%</text>
<line x1="73.50" y1="346.10" x2="81.80" y2="346.10" stroke="#e8e050" stroke-width="1.4" />
<text x="84.20" y="348.26" font-size="6.0" text-anchor="start" font-weight="normal" fill="#222" stroke="#222" >Other</text>
<text x="126.60" y="348.26" font-size="6.0" text-anchor="start" font-weight="normal" fill="#222" stroke="#222" >62.5±5.1%</text>
<text x="126.60" y="354.56" font-size="6.0" text-anchor="start" font-weight="normal" fill="#222" stroke="#222" >p&lt;0.001</text>
<text x="7.50" y="424.86" font-size="4.6" text-anchor="start" font-weight="normal" fill="#222" stroke="#222" >At Risk</text>
<text x="7.50" y="429.88" font-size="4.1" text-anchor="start" font-weight="normal" fill="#222" stroke="#222" >Isolated BM</text>
<text x="38.00" y="429.88" font-size="4.1" text-anchor="middle" font-weight="normal" fill="#222" stroke="#222" >1003</text>
<text x="46.44" y="429.88" font-size="4.1" text-anchor="middle" font-weight="normal" fill="#222" stroke="#222" >858</text>
<text x="54.88" y="429.88" font-size="4.1" text-anchor="middle" font-weight="normal" fill="#222" stroke="#222" >528</text>
<text x="63.32" y="429.88" font-size="4.1" text-anchor="middle" font-weight="normal" fill="#222" stroke="#222" >444</text>
<text x="71.76" y="429.88" font-size="4.1" text-anchor="middle" font-weight="normal" fill="#222" stroke="#222" >380</text>
<text x="80.20" y="429.88" font-size="4.1" text-anchor="middle" font-weight="normal" fill="#222" stroke="#222" >320</text>
<text x="88.64" y="429.88" font-size="4.1" text-anchor="middle" font-weight="normal" fill="#222" stroke="#222" >217</text>
<text x="97.08" y="429.88" font-size="4.1" text-anchor="middle" font-weight="normal" fill="#222" stroke="#222" >147</text>
<text x="105.52" y="429.88" font-size="4.1" text-anchor="middle" font-weight="normal" fill="#222" stroke="#222" >104</text>
<text x="113.96" y="429.88" font-size="4.1" text-anchor="middle" font-weight="normal" fill="#222" stroke="#222" >59</text>
<text x="122.40" y="429.88" font-size="4.1" text-anchor="middle" font-weight="normal" fill="#222" stroke="#222" >25</text>
<text x="130.84" y="429.88" font-size="4.1" text-anchor="middle" font-weight="normal" fill="#222" stroke="#222" >14</text>
<text x="139.28" y="429.88" font-size="4.1" text-anchor="middle" font-weight="normal" fill="#222" stroke="#222" >6</text>
<text x="147.72" y="429.88" font-size="4.1" text-anchor="middle" font-weight="normal" fill="#222" stroke="#222" >4</text>
<text x="156.16" y="429.88" font-size="4.1" text-anchor="middle" font-weight="normal" fill="#222" stroke="#222" >2</text>
<text x="7.50" y="434.28" font-size="4.1" text-anchor="start" font-weight="normal" fill="#222" stroke="#222" >Combined BM</text>
<text x="38.00" y="434.28" font-size="4.1" text-anchor="middle" font-weight="normal" fill="#222" stroke="#222" >236</text>
<text x="46.44" y="434.28" font-size="4.1" text-anchor="middle" font-weight="normal" fill="#222" stroke="#222" >189</text>
<text x="54.88" y="434.28" font-size="4.1" text-anchor="middle" font-weight="normal" fill="#222" stroke="#222" >150</text>
<text x="63.32" y="434.28" font-size="4.1" text-anchor="middle" font-weight="normal" fill="#222" stroke="#222" >132</text>
<text x="71.76" y="434.28" font-size="4.1" text-anchor="middle" font-weight="normal" fill="#222" stroke="#222" >116</text>
<text x="80.20" y="434.28" font-size="4.1" text-anchor="middle" font-weight="normal" fill="#222" stroke="#222" >97</text>
<text x="88.64" y="434.28" font-size="4.1" text-anchor="middle" font-weight="normal" fill="#222" stroke="#222" >69</text>
<text x="97.08" y="434.28" font-size="4.1" text-anchor="middle" font-weight="normal" fill="#222" stroke="#222" >49</text>
<text x="105.52" y="434.28" font-size="4.1" text-anchor="middle" font-weight="normal" fill="#222" stroke="#222" >30</text>
<text x="113.96" y="434.28" font-size="4.1" text-anchor="middle" font-weight="normal" fill="#222" stroke="#222" >18</text>
<text x="122.40" y="434.28" font-size="4.1" text-anchor="middle" font-weight="normal" fill="#222" stroke="#222" >7</text>
<text x="130.84" y="434.28" font-size="4.1" text-anchor="middle" font-weight="normal" fill="#222" stroke="#222" >3</text>
<text x="139.28" y="434.28" font-size="4.1" text-anchor="middle" font-weight="normal" fill="#222" stroke="#222" >2</text>
<text x="147.72" y="434.28" font-size="4.1" text-anchor="middle" font-weight="normal" fill="#222" stroke="#222" >0</text>
<text x="156.16" y="434.28" font-size="4.1" text-anchor="middle" font-weight="normal" fill="#222" stroke="#222" >0</text>
<text x="7.50" y="438.48" font-size="4.1" text-anchor="start" font-weight="normal" fill="#222" stroke="#222" >Isolated CNS</text>
<text x="38.00" y="438.48" font-size="4.1" text-anchor="middle" font-weight="normal" fill="#222" stroke="#222" >371</text>
<text x="46.44" y="438.48" font-size="4.1" text-anchor="middle" font-weight="normal" fill="#222" stroke="#222" >323</text>
<text x="54.88" y="438.48" font-size="4.1" text-anchor="middle" font-weight="normal" fill="#222" stroke="#222" >280</text>
<text x="63.32" y="438.48" font-size="4.1" text-anchor="middle" font-weight="normal" fill="#222" stroke="#222" >245</text>
<text x="71.76" y="438.48" font-size="4.1" text-anchor="middle" font-weight="normal" fill="#222" stroke="#222" >215</text>
<text x="80.20" y="438.48" font-size="4.1" text-anchor="middle" font-weight="normal" fill="#222" stroke="#222" >187</text>
<text x="88.64" y="438.48" font-size="4.1" text-anchor="middle" font-weight="normal" fill="#222" stroke="#222" >155</text>
<text x="97.08" y="438.48" font-size="4.1" text-anchor="middle" font-weight="normal" fill="#222" stroke="#222" >124</text>
<text x="105.52" y="438.48" font-size="4.1" text-anchor="middle" font-weight="normal" fill="#222" stroke="#222" >99</text>
<text x="113.96" y="438.48" font-size="4.1" text-anchor="middle" font-weight="normal" fill="#222" stroke="#222" >59</text>
<text x="122.40" y="438.48" font-size="4.1" text-anchor="middle" font-weight="normal" fill="#222" stroke="#222" >34</text>
<text x="130.84" y="438.48" font-size="4.1" text-anchor="middle" font-weight="normal" fill="#222" stroke="#222" >18</text>
<text x="139.28" y="438.48" font-size="4.1" text-anchor="middle" font-weight="normal" fill="#222" stroke="#222" >7</text>
<text x="147.72" y="438.48" font-size="4.1" text-anchor="middle" font-weight="normal" fill="#222" stroke="#222" >3</text>
<text x="156.16" y="438.48" font-size="4.1" text-anchor="middle" font-weight="normal" fill="#222" stroke="#222" >0</text>
<text x="7.50" y="443.18" font-size="4.1" text-anchor="start" font-weight="normal" fill="#222" stroke="#222" >Other</text>
<text x="38.00" y="443.18" font-size="4.1" text-anchor="middle" font-weight="normal" fill="#222" stroke="#222" >106</text>
<text x="46.44" y="443.18" font-size="4.1" text-anchor="middle" font-weight="normal" fill="#222" stroke="#222" >89</text>
<text x="54.88" y="443.18" font-size="4.1" text-anchor="middle" font-weight="normal" fill="#222" stroke="#222" >74</text>
<text x="63.32" y="443.18" font-size="4.1" text-anchor="middle" font-weight="normal" fill="#222" stroke="#222" >65</text>
<text x="71.76" y="443.18" font-size="4.1" text-anchor="middle" font-weight="normal" fill="#222" stroke="#222" >54</text>
<text x="80.20" y="443.18" font-size="4.1" text-anchor="middle" font-weight="normal" fill="#222" stroke="#222" >47</text>
<text x="88.64" y="443.18" font-size="4.1" text-anchor="middle" font-weight="normal" fill="#222" stroke="#222" >32</text>
<text x="97.08" y="443.18" font-size="4.1" text-anchor="middle" font-weight="normal" fill="#222" stroke="#222" >24</text>
<text x="105.52" y="443.18" font-size="4.1" text-anchor="middle" font-weight="normal" fill="#222" stroke="#222" >16</text>
<text x="113.96" y="443.18" font-size="4.1" text-anchor="middle" font-weight="normal" fill="#222" stroke="#222" >8</text>
<text x="122.40" y="443.18" font-size="4.1" text-anchor="middle" font-weight="normal" fill="#222" stroke="#222" >7</text>
<text x="130.84" y="443.18" font-size="4.1" text-anchor="middle" font-weight="normal" fill="#222" stroke="#222" >2</text>
<text x="139.28" y="443.18" font-size="4.1" text-anchor="middle" font-weight="normal" fill="#222" stroke="#222" >1</text>
<text x="147.72" y="443.18" font-size="4.1" text-anchor="middle" font-weight="normal" fill="#222" stroke="#222" >1</text>
<text x="156.16" y="443.18" font-size="4.1" text-anchor="middle" font-weight="normal" fill="#222" stroke="#222" >0</text>
<line x1="199.00" y1="15.00" x2="199.00" y2="127.30" stroke="#3a3a3a" stroke-width="0.9" />
<line x1="199.00" y1="127.30" x2="265.50" y2="127.30" stroke="#3a3a3a" stroke-width="0.9" />
<line x1="197.20" y1="127.30" x2="199.00" y2="127.30" stroke="#3a3a3a" stroke-width="0.9" />
<text x="195.80" y="129.43" font-size="4.8" text-anchor="end" font-weight="normal" fill="#444" stroke="#444" >0.0</text>
<line x1="197.20" y1="116.18" x2="199.00" y2="116.18" stroke="#3a3a3a" stroke-width="0.9" />
<text x="195.80" y="118.31" font-size="4.8" text-anchor="end" font-weight="normal" fill="#444" stroke="#444" >0.1</text>
<line x1="197.20" y1="105.06" x2="199.00" y2="105.06" stroke="#3a3a3a" stroke-width="0.9" />
<text x="195.80" y="107.19" font-size="4.8" text-anchor="end" font-weight="normal" fill="#444" stroke="#444" >0.2</text>
<line x1="197.20" y1="93.94" x2="199.00" y2="93.94" stroke="#3a3a3a" stroke-width="0.9" />
<text x="195.80" y="96.07" font-size="4.8" text-anchor="end" font-weight="normal" fill="#444" stroke="#444" >0.3</text>
<line x1="197.20" y1="82.82" x2="199.00" y2="82.82" stroke="#3a3a3a" stroke-width="0.9" />
<text x="195.80" y="84.95" font-size="4.8" text-anchor="end" font-weight="normal" fill="#444" stroke="#444" >0.4</text>
<line x1="197.20" y1="71.70" x2="199.00" y2="71.70" stroke="#3a3a3a" stroke-width="0.9" />
<text x="195.80" y="73.83" font-size="4.8" text-anchor="end" font-weight="normal" fill="#444" stroke="#444" >0.5</text>
<line x1="197.20" y1="60.58" x2="199.00" y2="60.58" stroke="#3a3a3a" stroke-width="0.9" />
<text x="195.80" y="62.71" font-size="4.8" text-anchor="end" font-weight="normal" fill="#444" stroke="#444" >0.6</text>
<line x1="197.20" y1="49.46" x2="199.00" y2="49.46" stroke="#3a3a3a" stroke-width="0.9" />
<text x="195.80" y="51.59" font-size="4.8" text-anchor="end" font-weight="normal" fill="#444" stroke="#444" >0.7</text>
<line x1="197.20" y1="38.34" x2="199.00" y2="38.34" stroke="#3a3a3a" stroke-width="0.9" />
<text x="195.80" y="40.47" font-size="4.8" text-anchor="end" font-weight="normal" fill="#444" stroke="#444" >0.8</text>
<line x1="197.20" y1="27.22" x2="199.00" y2="27.22" stroke="#3a3a3a" stroke-width="0.9" />
<text x="195.80" y="29.35" font-size="4.8" text-anchor="end" font-weight="normal" fill="#444" stroke="#444" >0.9</text>
<line x1="197.20" y1="16.10" x2="199.00" y2="16.10" stroke="#3a3a3a" stroke-width="0.9" />
<text x="195.80" y="18.23" font-size="4.8" text-anchor="end" font-weight="normal" fill="#444" stroke="#444" >1.0</text>
<line x1="199.00" y1="127.30" x2="199.00" y2="129.10" stroke="#3a3a3a" stroke-width="0.9" />
<text x="199.00" y="134.73" font-size="4.8" text-anchor="middle" font-weight="normal" fill="#444" stroke="#444" >0</text>
<line x1="208.40" y1="127.30" x2="208.40" y2="129.10" stroke="#3a3a3a" stroke-width="0.9" />
<text x="208.40" y="134.73" font-size="4.8" text-anchor="middle" font-weight="normal" fill="#444" stroke="#444" >2</text>
<line x1="217.80" y1="127.30" x2="217.80" y2="129.10" stroke="#3a3a3a" stroke-width="0.9" />
<text x="217.80" y="134.73" font-size="4.8" text-anchor="middle" font-weight="normal" fill="#444" stroke="#444" >4</text>
<line x1="227.20" y1="127.30" x2="227.20" y2="129.10" stroke="#3a3a3a" stroke-width="0.9" />
<text x="227.20" y="134.73" font-size="4.8" text-anchor="middle" font-weight="normal" fill="#444" stroke="#444" >6</text>
<line x1="236.60" y1="127.30" x2="236.60" y2="129.10" stroke="#3a3a3a" stroke-width="0.9" />
<text x="236.60" y="134.73" font-size="4.8" text-anchor="middle" font-weight="normal" fill="#444" stroke="#444" >8</text>
<line x1="246.00" y1="127.30" x2="246.00" y2="129.10" stroke="#3a3a3a" stroke-width="0.9" />
<text x="246.00" y="134.73" font-size="4.8" text-anchor="middle" font-weight="normal" fill="#444" stroke="#444" >10</text>
<line x1="255.40" y1="127.30" x2="255.40" y2="129.10" stroke="#3a3a3a" stroke-width="0.9" />
<text x="255.40" y="134.73" font-size="4.8" text-anchor="middle" font-weight="normal" fill="#444" stroke="#444" >12</text>
<line x1="264.80" y1="127.30" x2="264.80" y2="129.10" stroke="#3a3a3a" stroke-width="0.9" />
<text x="264.80" y="134.73" font-size="4.8" text-anchor="middle" font-weight="normal" fill="#444" stroke="#444" >14</text>
<text x="231.80" y="141.77" font-size="5.2" text-anchor="middle" font-weight="bold" fill="#111" stroke="#111" >Years from Relapse</text>
<text x="0" y="0" font-size="5.9" font-weight="bold" text-anchor="middle" fill="#111" stroke="#111" transform="translate(185.62,72.00) rotate(-90)">Survival Probability</text>
<text x="174.90" y="6.50" font-size="8.2" text-anchor="start" font-weight="normal" fill="#111"  stroke="#111" style="stroke-width:0.45">D</text>
<path d="M199.00,16.10 L201.02,27.55 L203.70,34.23 L207.08,38.90 L210.51,42.34 L214.51,45.68 L218.74,47.79 L222.03,48.35 L224.85,50.24 L228.14,52.24 L231.90,54.24 L236.13,55.24 L246.28,55.24 L246.28,62.25 L249.29,63.25 L249.29,75.37 L258.22,75.37" fill="none" stroke="#2a2a2a" stroke-width="1.0" stroke-linejoin="round"  opacity="1"/>
<path d="M199.00,16.10 L203.09,26.78 L207.08,30.22 L210.51,33.56 L213.81,38.34 L217.19,41.01 L221.28,43.01 L224.85,45.57 L228.14,46.57 L231.90,47.24 L236.13,47.57 L238.01,51.24 L239.89,53.24 L240.22,59.36 L264.33,59.36" fill="none" stroke="#4e9a4e" stroke-width="1.0" stroke-linejoin="round"  opacity="1"/>
<path d="M199.00,16.10 L199.47,38.34 L200.41,60.58 L201.68,70.70 L206.38,80.15 L212.63,86.49 L219.02,91.16 L259.16,91.16" fill="none" stroke="#f2d9a0" stroke-width="1.0" stroke-linejoin="round" stroke-dasharray="2,1" opacity="1"/>
<path d="M199.00,16.10 L199.94,38.34 L200.88,55.02 L202.53,102.17 L204.88,110.84 L238.72,110.84" fill="none" stroke="#e87878" stroke-width="1.0" stroke-linejoin="round"  opacity="1"/>
<path d="M199.00,16.10 L199.94,32.78 L201.02,41.01 L203.70,53.13 L206.38,66.14 L209.81,67.92 L211.22,70.03 L213.57,73.92 L224.38,73.92 L225.79,76.15 L227.67,78.59 L228.61,80.60 L229.08,83.26 L233.31,83.26 L233.31,91.16 L238.72,91.16 L238.72,103.06 L242.71,103.06" fill="none" stroke="#3535c8" stroke-width="1.0" stroke-linejoin="round"  opacity="1"/>
<path d="M199.00,16.10 L199.71,27.22 L201.02,41.01 L203.70,58.47 L206.38,69.48 L209.57,78.59 L212.63,82.49 L217.33,85.71 L220.62,86.49 L256.81,86.49" fill="none" stroke="#7ee07e" stroke-width="1.0" stroke-linejoin="round"  opacity="1"/>
<path d="M199.00,16.10 L199.71,22.10 L202.38,28.78 L204.41,34.23 L206.38,42.34 L209.10,51.68 L211.69,57.13 L213.81,61.25 L217.19,66.58 L220.62,70.59 L222.03,72.37 L224.38,75.37 L228.61,83.26 L244.12,83.26" fill="none" stroke="#e070e0" stroke-width="1.0" stroke-linejoin="round"  opacity="1"/>
<path d="M199.00,16.10 L199.47,19.44 L201.68,27.55 L203.70,35.56 L205.81,46.35 L207.79,54.46 L210.51,61.25 L212.63,65.03 L213.81,66.14 L218.74,68.36 L223.91,70.59 L225.32,73.92 L234.72,77.04 L240.83,80.15 L244.12,82.49 L261.51,82.49 L261.51,105.28 L263.86,105.28" fill="none" stroke="#7a3a9a" stroke-width="1.0" stroke-linejoin="round"  opacity="1"/>
<path d="M199.00,16.10 L201.35,27.22 L203.70,36.12 L206.05,46.12 L208.40,53.91 L210.75,60.58 L213.10,65.03 L217.80,69.48 L222.50,71.70 L228.61,73.92 L242.24,75.37 L242.71,76.48 L263.39,76.48" fill="none" stroke="#555555" stroke-width="1.0" stroke-linejoin="round" stroke-dasharray="1,0.8" opacity="1"/>
<line x1="268.60" y1="39.00" x2="276.70" y2="39.00" stroke="#2a2a2a" stroke-width="1.0" />
<text x="279.00" y="40.84" font-size="5.1" text-anchor="start" font-weight="normal" fill="#222" stroke="#222" >Trisomy 4+10</text>
<text x="316.20" y="40.84" font-size="5.1" text-anchor="start" font-weight="normal" fill="#222" stroke="#222" >70.2±3.6%</text>
<line x1="268.60" y1="46.50" x2="276.70" y2="46.50" stroke="#4e9a4e" stroke-width="1.0" />
<text x="279.00" y="48.34" font-size="5.1" text-anchor="start" font-weight="normal" fill="#222" stroke="#222" >ETV6::RUNX1</text>
<text x="316.20" y="48.34" font-size="5.1" text-anchor="start" font-weight="normal" fill="#222" stroke="#222" >74.4±3.1%</text>
<line x1="268.60" y1="53.40" x2="276.70" y2="53.40" stroke="#f2d9a0" stroke-width="1.0" stroke-dasharray="2,1"/>
<text x="279.00" y="55.24" font-size="5.1" text-anchor="start" font-weight="normal" fill="#222" stroke="#222" >KMT2A-R</text>
<text x="316.20" y="55.24" font-size="5.1" text-anchor="start" font-weight="normal" fill="#222" stroke="#222" >31.9±7.7%</text>
<line x1="268.60" y1="60.90" x2="276.70" y2="60.90" stroke="#e87878" stroke-width="1.0" />
<text x="279.00" y="62.74" font-size="5.1" text-anchor="start" font-weight="normal" fill="#222" stroke="#222" >Hypodiploid</text>
<text x="316.20" y="62.74" font-size="5.1" text-anchor="start" font-weight="normal" fill="#222" stroke="#222" >14.2±6.1%</text>
<line x1="268.60" y1="68.10" x2="276.70" y2="68.10" stroke="#3535c8" stroke-width="1.0" />
<text x="279.00" y="69.94" font-size="5.1" text-anchor="start" font-weight="normal" fill="#222" stroke="#222" >BCR::ABL1</text>
<text x="316.20" y="69.94" font-size="5.1" text-anchor="start" font-weight="normal" fill="#222" stroke="#222" >47.2±6.6%</text>
<line x1="268.60" y1="75.30" x2="276.70" y2="75.30" stroke="#7ee07e" stroke-width="1.0" />
<text x="279.00" y="77.14" font-size="5.1" text-anchor="start" font-weight="normal" fill="#222" stroke="#222" >TCF3::PBX1</text>
<text x="316.20" y="77.14" font-size="5.1" text-anchor="start" font-weight="normal" fill="#222" stroke="#222" >36.8±6.6%</text>
<line x1="268.60" y1="82.50" x2="276.70" y2="82.50" stroke="#e070e0" stroke-width="1.0" />
<text x="279.00" y="84.34" font-size="5.1" text-anchor="start" font-weight="normal" fill="#222" stroke="#222" >iAMP21</text>
<text x="316.20" y="84.34" font-size="5.1" text-anchor="start" font-weight="normal" fill="#222" stroke="#222" >48.2±7.7%</text>
<line x1="268.60" y1="89.70" x2="276.70" y2="89.70" stroke="#7a3a9a" stroke-width="1.0" />
<text x="279.00" y="91.54" font-size="5.1" text-anchor="start" font-weight="normal" fill="#222" stroke="#222" >B-ALL, other</text>
<text x="316.20" y="91.54" font-size="5.1" text-anchor="start" font-weight="normal" fill="#222" stroke="#222" >48.2±2.0%</text>
<line x1="268.60" y1="97.10" x2="276.70" y2="97.10" stroke="#555555" stroke-width="1.0" stroke-dasharray="1,0.8"/>
<text x="279.00" y="98.94" font-size="5.1" text-anchor="start" font-weight="normal" fill="#222" stroke="#222" >Unknown</text>
<text x="316.20" y="98.94" font-size="5.1" text-anchor="start" font-weight="normal" fill="#222" stroke="#222" >49.4±2.6%</text>
<text x="316.20" y="105.94" font-size="5.1" text-anchor="start" font-weight="normal" fill="#222" stroke="#222" >p&lt;0.001</text>
<line x1="201.50" y1="170.20" x2="201.50" y2="254.80" stroke="#3a3a3a" stroke-width="0.9" />
<line x1="201.50" y1="254.80" x2="333.00" y2="254.80" stroke="#3a3a3a" stroke-width="0.9" />
<line x1="199.50" y1="252.20" x2="201.50" y2="252.20" stroke="#3a3a3a" stroke-width="0.9" />
<text x="198.10" y="254.40" font-size="5.0" text-anchor="end" font-weight="normal" fill="#444" stroke="#444" >0.0</text>
<line x1="199.50" y1="244.29" x2="201.50" y2="244.29" stroke="#3a3a3a" stroke-width="0.9" />
<text x="198.10" y="246.49" font-size="5.0" text-anchor="end" font-weight="normal" fill="#444" stroke="#444" >0.1</text>
<line x1="199.50" y1="236.38" x2="201.50" y2="236.38" stroke="#3a3a3a" stroke-width="0.9" />
<text x="198.10" y="238.58" font-size="5.0" text-anchor="end" font-weight="normal" fill="#444" stroke="#444" >0.2</text>
<line x1="199.50" y1="228.47" x2="201.50" y2="228.47" stroke="#3a3a3a" stroke-width="0.9" />
<text x="198.10" y="230.67" font-size="5.0" text-anchor="end" font-weight="normal" fill="#444" stroke="#444" >0.3</text>
<line x1="199.50" y1="220.56" x2="201.50" y2="220.56" stroke="#3a3a3a" stroke-width="0.9" />
<text x="198.10" y="222.76" font-size="5.0" text-anchor="end" font-weight="normal" fill="#444" stroke="#444" >0.4</text>
<line x1="199.50" y1="212.65" x2="201.50" y2="212.65" stroke="#3a3a3a" stroke-width="0.9" />
<text x="198.10" y="214.85" font-size="5.0" text-anchor="end" font-weight="normal" fill="#444" stroke="#444" >0.5</text>
<line x1="199.50" y1="204.74" x2="201.50" y2="204.74" stroke="#3a3a3a" stroke-width="0.9" />
<text x="198.10" y="206.94" font-size="5.0" text-anchor="end" font-weight="normal" fill="#444" stroke="#444" >0.6</text>
<line x1="199.50" y1="196.83" x2="201.50" y2="196.83" stroke="#3a3a3a" stroke-width="0.9" />
<text x="198.10" y="199.03" font-size="5.0" text-anchor="end" font-weight="normal" fill="#444" stroke="#444" >0.7</text>
<line x1="199.50" y1="188.92" x2="201.50" y2="188.92" stroke="#3a3a3a" stroke-width="0.9" />
<text x="198.10" y="191.12" font-size="5.0" text-anchor="end" font-weight="normal" fill="#444" stroke="#444" >0.8</text>
<line x1="199.50" y1="181.01" x2="201.50" y2="181.01" stroke="#3a3a3a" stroke-width="0.9" />
<text x="198.10" y="183.21" font-size="5.0" text-anchor="end" font-weight="normal" fill="#444" stroke="#444" >0.9</text>
<line x1="199.50" y1="173.10" x2="201.50" y2="173.10" stroke="#3a3a3a" stroke-width="0.9" />
<text x="198.10" y="175.30" font-size="5.0" text-anchor="end" font-weight="normal" fill="#444" stroke="#444" >1.0</text>
<line x1="204.40" y1="254.80" x2="204.40" y2="256.80" stroke="#3a3a3a" stroke-width="0.9" />
<text x="204.40" y="263.90" font-size="5.0" text-anchor="middle" font-weight="normal" fill="#444" stroke="#444" >0</text>
<line x1="213.42" y1="254.80" x2="213.42" y2="256.80" stroke="#3a3a3a" stroke-width="0.9" />
<text x="213.42" y="263.90" font-size="5.0" text-anchor="middle" font-weight="normal" fill="#444" stroke="#444" >1</text>
<line x1="222.44" y1="254.80" x2="222.44" y2="256.80" stroke="#3a3a3a" stroke-width="0.9" />
<text x="222.44" y="263.90" font-size="5.0" text-anchor="middle" font-weight="normal" fill="#444" stroke="#444" >2</text>
<line x1="231.46" y1="254.80" x2="231.46" y2="256.80" stroke="#3a3a3a" stroke-width="0.9" />
<text x="231.46" y="263.90" font-size="5.0" text-anchor="middle" font-weight="normal" fill="#444" stroke="#444" >3</text>
<line x1="240.48" y1="254.80" x2="240.48" y2="256.80" stroke="#3a3a3a" stroke-width="0.9" />
<text x="240.48" y="263.90" font-size="5.0" text-anchor="middle" font-weight="normal" fill="#444" stroke="#444" >4</text>
<line x1="249.50" y1="254.80" x2="249.50" y2="256.80" stroke="#3a3a3a" stroke-width="0.9" />
<text x="249.50" y="263.90" font-size="5.0" text-anchor="middle" font-weight="normal" fill="#444" stroke="#444" >5</text>
<line x1="258.52" y1="254.80" x2="258.52" y2="256.80" stroke="#3a3a3a" stroke-width="0.9" />
<text x="258.52" y="263.90" font-size="5.0" text-anchor="middle" font-weight="normal" fill="#444" stroke="#444" >6</text>
<line x1="267.54" y1="254.80" x2="267.54" y2="256.80" stroke="#3a3a3a" stroke-width="0.9" />
<text x="267.54" y="263.90" font-size="5.0" text-anchor="middle" font-weight="normal" fill="#444" stroke="#444" >7</text>
<line x1="276.56" y1="254.80" x2="276.56" y2="256.80" stroke="#3a3a3a" stroke-width="0.9" />
<text x="276.56" y="263.90" font-size="5.0" text-anchor="middle" font-weight="normal" fill="#444" stroke="#444" >8</text>
<line x1="285.58" y1="254.80" x2="285.58" y2="256.80" stroke="#3a3a3a" stroke-width="0.9" />
<text x="285.58" y="263.90" font-size="5.0" text-anchor="middle" font-weight="normal" fill="#444" stroke="#444" >9</text>
<line x1="294.60" y1="254.80" x2="294.60" y2="256.80" stroke="#3a3a3a" stroke-width="0.9" />
<text x="294.60" y="263.90" font-size="5.0" text-anchor="middle" font-weight="normal" fill="#444" stroke="#444" >10</text>
<line x1="303.62" y1="254.80" x2="303.62" y2="256.80" stroke="#3a3a3a" stroke-width="0.9" />
<text x="303.62" y="263.90" font-size="5.0" text-anchor="middle" font-weight="normal" fill="#444" stroke="#444" >11</text>
<line x1="312.64" y1="254.80" x2="312.64" y2="256.80" stroke="#3a3a3a" stroke-width="0.9" />
<text x="312.64" y="263.90" font-size="5.0" text-anchor="middle" font-weight="normal" fill="#444" stroke="#444" >12</text>
<line x1="321.66" y1="254.80" x2="321.66" y2="256.80" stroke="#3a3a3a" stroke-width="0.9" />
<text x="321.66" y="263.90" font-size="5.0" text-anchor="middle" font-weight="normal" fill="#444" stroke="#444" >13</text>
<line x1="330.68" y1="254.80" x2="330.68" y2="256.80" stroke="#3a3a3a" stroke-width="0.9" />
<text x="330.68" y="263.90" font-size="5.0" text-anchor="middle" font-weight="normal" fill="#444" stroke="#444" >14</text>
<text x="268.10" y="269.71" font-size="5.86" text-anchor="middle" font-weight="bold" fill="#111" stroke="#111" >Years from Relapse</text>
<text x="0" y="0" font-size="6.1" font-weight="bold" text-anchor="middle" fill="#111" stroke="#111" transform="translate(184.50,213.00) rotate(-90)">Survival Probability</text>
<text x="174.90" y="161.60" font-size="8.2" text-anchor="start" font-weight="normal" fill="#111"  stroke="#111" style="stroke-width:0.45">E</text>
<path d="M204.40,173.10 L208.91,173.10 L208.91,174.52 L210.44,183.86 L211.98,188.60 L215.22,190.90 L217.48,192.48 L220.64,194.62 L229.66,194.62 L230.11,197.23 L245.89,197.23 L246.70,201.18 L247.43,205.85 L297.31,205.85" fill="none" stroke="#3b7439" stroke-width="1.5" stroke-linejoin="round"  opacity="1"/>
<path d="M204.40,173.10 L208.10,176.11 L210.44,185.44 L211.98,199.60 L213.60,207.43 L215.22,212.89 L218.29,215.18 L223.79,215.18 L225.42,219.93 L227.85,223.01 L234.80,223.33 L237.23,225.46 L297.31,225.70" fill="none" stroke="#2a2ab6" stroke-width="1.6" stroke-linejoin="round"  opacity="1"/>
<path d="M204.40,173.10 L206.47,180.77 L208.10,196.36 L209.63,207.43 L211.98,215.18 L214.41,219.93 L217.48,223.01 L222.17,225.46 L228.48,226.89 L241.38,227.44 L242.74,228.47 L293.70,228.47 L293.70,230.84 L330.68,230.84" fill="none" stroke="#d03641" stroke-width="1.5" stroke-linejoin="round"  opacity="1"/>
<line x1="247.40" y1="178.10" x2="257.10" y2="178.10" stroke="#d03641" stroke-width="1.4" />
<text x="258.90" y="180.40" font-size="6.4" text-anchor="start" font-weight="normal" fill="#222" stroke="#222" >Early</text>
<text x="298.50" y="180.40" font-size="6.4" text-anchor="start" font-weight="normal" fill="#222" stroke="#222" >29.8±3.9%</text>
<line x1="247.40" y1="184.00" x2="257.10" y2="184.00" stroke="#2a2ab6" stroke-width="1.4" />
<text x="258.90" y="186.30" font-size="6.4" text-anchor="start" font-weight="normal" fill="#222" stroke="#222" >Intermediate</text>
<text x="298.50" y="186.30" font-size="6.4" text-anchor="start" font-weight="normal" fill="#222" stroke="#222" >33.3±7.6%</text>
<line x1="247.40" y1="190.00" x2="257.10" y2="190.00" stroke="#3b7439" stroke-width="1.4" />
<text x="258.90" y="192.30" font-size="6.4" text-anchor="start" font-weight="normal" fill="#222" stroke="#222" >Late</text>
<text x="298.50" y="192.30" font-size="6.4" text-anchor="start" font-weight="normal" fill="#222" stroke="#222" >58.0±9.8%</text>
<text x="298.50" y="198.90" font-size="6.4" text-anchor="start" font-weight="normal" fill="#222" stroke="#222" >p&lt;0.001</text>
<text x="185.80" y="276.24" font-size="5.4" text-anchor="start" font-weight="normal" fill="#222" stroke="#222" >At Risk</text>
<text x="185.80" y="281.76" font-size="4.6" text-anchor="start" font-weight="normal" fill="#222" stroke="#222" >Early</text>
<text x="204.40" y="281.76" font-size="4.6" text-anchor="middle" font-weight="normal" fill="#222" stroke="#222" >147</text>
<text x="213.42" y="281.76" font-size="4.6" text-anchor="middle" font-weight="normal" fill="#222" stroke="#222" >62</text>
<text x="222.44" y="281.76" font-size="4.6" text-anchor="middle" font-weight="normal" fill="#222" stroke="#222" >46</text>
<text x="231.46" y="281.76" font-size="4.6" text-anchor="middle" font-weight="normal" fill="#222" stroke="#222" >41</text>
<text x="240.48" y="281.76" font-size="4.6" text-anchor="middle" font-weight="normal" fill="#222" stroke="#222" >38</text>
<text x="249.50" y="281.76" font-size="4.6" text-anchor="middle" font-weight="normal" fill="#222" stroke="#222" >33</text>
<text x="258.52" y="281.76" font-size="4.6" text-anchor="middle" font-weight="normal" fill="#222" stroke="#222" >28</text>
<text x="267.54" y="281.76" font-size="4.6" text-anchor="middle" font-weight="normal" fill="#222" stroke="#222" >23</text>
<text x="276.56" y="281.76" font-size="4.6" text-anchor="middle" font-weight="normal" fill="#222" stroke="#222" >23</text>
<text x="285.58" y="281.76" font-size="4.6" text-anchor="middle" font-weight="normal" fill="#222" stroke="#222" >18</text>
<text x="294.60" y="281.76" font-size="4.6" text-anchor="middle" font-weight="normal" fill="#222" stroke="#222" >9</text>
<text x="303.62" y="281.76" font-size="4.6" text-anchor="middle" font-weight="normal" fill="#222" stroke="#222" >4</text>
<text x="312.64" y="281.76" font-size="4.6" text-anchor="middle" font-weight="normal" fill="#222" stroke="#222" >4</text>
<text x="321.66" y="281.76" font-size="4.6" text-anchor="middle" font-weight="normal" fill="#222" stroke="#222" >2</text>
<text x="330.68" y="281.76" font-size="4.6" text-anchor="middle" font-weight="normal" fill="#222" stroke="#222" >1</text>
<text x="185.80" y="286.66" font-size="4.6" text-anchor="start" font-weight="normal" fill="#222" stroke="#222" >Inter</text>
<text x="204.40" y="286.66" font-size="4.6" text-anchor="middle" font-weight="normal" fill="#222" stroke="#222" >36</text>
<text x="213.42" y="286.66" font-size="4.6" text-anchor="middle" font-weight="normal" fill="#222" stroke="#222" >22</text>
<text x="222.44" y="286.66" font-size="4.6" text-anchor="middle" font-weight="normal" fill="#222" stroke="#222" >18</text>
<text x="231.46" y="286.66" font-size="4.6" text-anchor="middle" font-weight="normal" fill="#222" stroke="#222" >14</text>
<text x="240.48" y="286.66" font-size="4.6" text-anchor="middle" font-weight="normal" fill="#222" stroke="#222" >13</text>
<text x="249.50" y="286.66" font-size="4.6" text-anchor="middle" font-weight="normal" fill="#222" stroke="#222" >10</text>
<text x="258.52" y="286.66" font-size="4.6" text-anchor="middle" font-weight="normal" fill="#222" stroke="#222" >7</text>
<text x="267.54" y="286.66" font-size="4.6" text-anchor="middle" font-weight="normal" fill="#222" stroke="#222" >4</text>
<text x="276.56" y="286.66" font-size="4.6" text-anchor="middle" font-weight="normal" fill="#222" stroke="#222" >1</text>
<text x="285.58" y="286.66" font-size="4.6" text-anchor="middle" font-weight="normal" fill="#222" stroke="#222" >1</text>
<text x="294.60" y="286.66" font-size="4.6" text-anchor="middle" font-weight="normal" fill="#222" stroke="#222" >1</text>
<text x="303.62" y="286.66" font-size="4.6" text-anchor="middle" font-weight="normal" fill="#222" stroke="#222" >0</text>
<text x="312.64" y="286.66" font-size="4.6" text-anchor="middle" font-weight="normal" fill="#222" stroke="#222" >0</text>
<text x="321.66" y="286.66" font-size="4.6" text-anchor="middle" font-weight="normal" fill="#222" stroke="#222" >0</text>
<text x="330.68" y="286.66" font-size="4.6" text-anchor="middle" font-weight="normal" fill="#222" stroke="#222" >0</text>
<text x="185.80" y="291.86" font-size="4.6" text-anchor="start" font-weight="normal" fill="#222" stroke="#222" >Late</text>
<text x="204.40" y="291.86" font-size="4.6" text-anchor="middle" font-weight="normal" fill="#222" stroke="#222" >41</text>
<text x="213.42" y="291.86" font-size="4.6" text-anchor="middle" font-weight="normal" fill="#222" stroke="#222" >30</text>
<text x="222.44" y="291.86" font-size="4.6" text-anchor="middle" font-weight="normal" fill="#222" stroke="#222" >25</text>
<text x="231.46" y="291.86" font-size="4.6" text-anchor="middle" font-weight="normal" fill="#222" stroke="#222" >17</text>
<text x="240.48" y="291.86" font-size="4.6" text-anchor="middle" font-weight="normal" fill="#222" stroke="#222" >13</text>
<text x="249.50" y="291.86" font-size="4.6" text-anchor="middle" font-weight="normal" fill="#222" stroke="#222" >9</text>
<text x="258.52" y="291.86" font-size="4.6" text-anchor="middle" font-weight="normal" fill="#222" stroke="#222" >3</text>
<text x="267.54" y="291.86" font-size="4.6" text-anchor="middle" font-weight="normal" fill="#222" stroke="#222" >1</text>
<text x="276.56" y="291.86" font-size="4.6" text-anchor="middle" font-weight="normal" fill="#222" stroke="#222" >1</text>
<text x="285.58" y="291.86" font-size="4.6" text-anchor="middle" font-weight="normal" fill="#222" stroke="#222" >1</text>
<text x="294.60" y="291.86" font-size="4.6" text-anchor="middle" font-weight="normal" fill="#222" stroke="#222" >1</text>
<text x="303.62" y="291.86" font-size="4.6" text-anchor="middle" font-weight="normal" fill="#222" stroke="#222" >0</text>
<text x="312.64" y="291.86" font-size="4.6" text-anchor="middle" font-weight="normal" fill="#222" stroke="#222" >0</text>
<text x="321.66" y="291.86" font-size="4.6" text-anchor="middle" font-weight="normal" fill="#222" stroke="#222" >0</text>
<text x="330.68" y="291.86" font-size="4.6" text-anchor="middle" font-weight="normal" fill="#222" stroke="#222" >0</text>
<line x1="209.40" y1="322.00" x2="209.40" y2="404.10" stroke="#3a3a3a" stroke-width="0.9" />
<line x1="209.40" y1="404.10" x2="334.00" y2="404.10" stroke="#3a3a3a" stroke-width="0.9" />
<line x1="207.40" y1="401.40" x2="209.40" y2="401.40" stroke="#3a3a3a" stroke-width="0.9" />
<text x="206.00" y="403.60" font-size="5.0" text-anchor="end" font-weight="normal" fill="#444" stroke="#444" >0.0</text>
<line x1="207.40" y1="393.63" x2="209.40" y2="393.63" stroke="#3a3a3a" stroke-width="0.9" />
<text x="206.00" y="395.83" font-size="5.0" text-anchor="end" font-weight="normal" fill="#444" stroke="#444" >0.1</text>
<line x1="207.40" y1="385.86" x2="209.40" y2="385.86" stroke="#3a3a3a" stroke-width="0.9" />
<text x="206.00" y="388.06" font-size="5.0" text-anchor="end" font-weight="normal" fill="#444" stroke="#444" >0.2</text>
<line x1="207.40" y1="378.09" x2="209.40" y2="378.09" stroke="#3a3a3a" stroke-width="0.9" />
<text x="206.00" y="380.29" font-size="5.0" text-anchor="end" font-weight="normal" fill="#444" stroke="#444" >0.3</text>
<line x1="207.40" y1="370.32" x2="209.40" y2="370.32" stroke="#3a3a3a" stroke-width="0.9" />
<text x="206.00" y="372.52" font-size="5.0" text-anchor="end" font-weight="normal" fill="#444" stroke="#444" >0.4</text>
<line x1="207.40" y1="362.55" x2="209.40" y2="362.55" stroke="#3a3a3a" stroke-width="0.9" />
<text x="206.00" y="364.75" font-size="5.0" text-anchor="end" font-weight="normal" fill="#444" stroke="#444" >0.5</text>
<line x1="207.40" y1="354.78" x2="209.40" y2="354.78" stroke="#3a3a3a" stroke-width="0.9" />
<text x="206.00" y="356.98" font-size="5.0" text-anchor="end" font-weight="normal" fill="#444" stroke="#444" >0.6</text>
<line x1="207.40" y1="347.01" x2="209.40" y2="347.01" stroke="#3a3a3a" stroke-width="0.9" />
<text x="206.00" y="349.21" font-size="5.0" text-anchor="end" font-weight="normal" fill="#444" stroke="#444" >0.7</text>
<line x1="207.40" y1="339.24" x2="209.40" y2="339.24" stroke="#3a3a3a" stroke-width="0.9" />
<text x="206.00" y="341.44" font-size="5.0" text-anchor="end" font-weight="normal" fill="#444" stroke="#444" >0.8</text>
<line x1="207.40" y1="331.47" x2="209.40" y2="331.47" stroke="#3a3a3a" stroke-width="0.9" />
<text x="206.00" y="333.67" font-size="5.0" text-anchor="end" font-weight="normal" fill="#444" stroke="#444" >0.9</text>
<line x1="207.40" y1="323.70" x2="209.40" y2="323.70" stroke="#3a3a3a" stroke-width="0.9" />
<text x="206.00" y="325.90" font-size="5.0" text-anchor="end" font-weight="normal" fill="#444" stroke="#444" >1.0</text>
<line x1="212.10" y1="404.10" x2="212.10" y2="406.10" stroke="#3a3a3a" stroke-width="0.9" />
<text x="212.10" y="412.80" font-size="5.0" text-anchor="middle" font-weight="normal" fill="#444" stroke="#444" >0</text>
<line x1="220.56" y1="404.10" x2="220.56" y2="406.10" stroke="#3a3a3a" stroke-width="0.9" />
<text x="220.56" y="412.80" font-size="5.0" text-anchor="middle" font-weight="normal" fill="#444" stroke="#444" >1</text>
<line x1="229.02" y1="404.10" x2="229.02" y2="406.10" stroke="#3a3a3a" stroke-width="0.9" />
<text x="229.02" y="412.80" font-size="5.0" text-anchor="middle" font-weight="normal" fill="#444" stroke="#444" >2</text>
<line x1="237.48" y1="404.10" x2="237.48" y2="406.10" stroke="#3a3a3a" stroke-width="0.9" />
<text x="237.48" y="412.80" font-size="5.0" text-anchor="middle" font-weight="normal" fill="#444" stroke="#444" >3</text>
<line x1="245.94" y1="404.10" x2="245.94" y2="406.10" stroke="#3a3a3a" stroke-width="0.9" />
<text x="245.94" y="412.80" font-size="5.0" text-anchor="middle" font-weight="normal" fill="#444" stroke="#444" >4</text>
<line x1="254.40" y1="404.10" x2="254.40" y2="406.10" stroke="#3a3a3a" stroke-width="0.9" />
<text x="254.40" y="412.80" font-size="5.0" text-anchor="middle" font-weight="normal" fill="#444" stroke="#444" >5</text>
<line x1="262.86" y1="404.10" x2="262.86" y2="406.10" stroke="#3a3a3a" stroke-width="0.9" />
<text x="262.86" y="412.80" font-size="5.0" text-anchor="middle" font-weight="normal" fill="#444" stroke="#444" >6</text>
<line x1="271.32" y1="404.10" x2="271.32" y2="406.10" stroke="#3a3a3a" stroke-width="0.9" />
<text x="271.32" y="412.80" font-size="5.0" text-anchor="middle" font-weight="normal" fill="#444" stroke="#444" >7</text>
<line x1="279.78" y1="404.10" x2="279.78" y2="406.10" stroke="#3a3a3a" stroke-width="0.9" />
<text x="279.78" y="412.80" font-size="5.0" text-anchor="middle" font-weight="normal" fill="#444" stroke="#444" >8</text>
<line x1="288.24" y1="404.10" x2="288.24" y2="406.10" stroke="#3a3a3a" stroke-width="0.9" />
<text x="288.24" y="412.80" font-size="5.0" text-anchor="middle" font-weight="normal" fill="#444" stroke="#444" >9</text>
<line x1="296.70" y1="404.10" x2="296.70" y2="406.10" stroke="#3a3a3a" stroke-width="0.9" />
<text x="296.70" y="412.80" font-size="5.0" text-anchor="middle" font-weight="normal" fill="#444" stroke="#444" >10</text>
<line x1="305.16" y1="404.10" x2="305.16" y2="406.10" stroke="#3a3a3a" stroke-width="0.9" />
<text x="305.16" y="412.80" font-size="5.0" text-anchor="middle" font-weight="normal" fill="#444" stroke="#444" >11</text>
<line x1="313.62" y1="404.10" x2="313.62" y2="406.10" stroke="#3a3a3a" stroke-width="0.9" />
<text x="313.62" y="412.80" font-size="5.0" text-anchor="middle" font-weight="normal" fill="#444" stroke="#444" >12</text>
<line x1="322.08" y1="404.10" x2="322.08" y2="406.10" stroke="#3a3a3a" stroke-width="0.9" />
<text x="322.08" y="412.80" font-size="5.0" text-anchor="middle" font-weight="normal" fill="#444" stroke="#444" >13</text>
<line x1="330.54" y1="404.10" x2="330.54" y2="406.10" stroke="#3a3a3a" stroke-width="0.9" />
<text x="330.54" y="412.80" font-size="5.0" text-anchor="middle" font-weight="normal" fill="#444" stroke="#444" >14</text>
<text x="272.10" y="419.01" font-size="5.86" text-anchor="middle" font-weight="bold" fill="#111" stroke="#111" >Years from Relapse</text>
<text x="0" y="0" font-size="6.1" font-weight="bold" text-anchor="middle" fill="#111" stroke="#111" transform="translate(195.20,363.00) rotate(-90)">Survival Probability</text>
<text x="174.90" y="311.70" font-size="8.2" text-anchor="start" font-weight="normal" fill="#111"  stroke="#111" style="stroke-width:0.45">F</text>
<path d="M212.10,323.70 L212.95,324.48 L215.23,332.25 L218.36,337.69 L220.05,342.35 L222.25,348.56 L225.64,351.67 L228.60,353.23 L232.40,356.33 L236.63,357.89 L240.86,359.05 L249.32,359.99 L264.55,360.22 L296.70,360.22 L296.70,364.88 L331.39,364.88" fill="none" stroke="#3b7439" stroke-width="1.5" stroke-linejoin="round"  opacity="1"/>
<path d="M212.10,323.70 L213.79,327.58 L216.84,335.36 L220.05,347.79 L221.41,355.56 L222.25,356.33 L231.56,356.33 L231.56,359.05 L251.02,359.05 L251.02,368.92 L300.93,368.92" fill="none" stroke="#e8e050" stroke-width="1.4" stroke-linejoin="round"  opacity="1"/>
<path d="M212.10,323.70 L212.95,327.58 L214.13,333.80 L215.74,349.34 L217.18,363.33 L218.87,370.32 L222.25,374.98 L226.99,378.09 L233.25,381.43 L237.48,382.52 L300.08,382.52" fill="none" stroke="#d03641" stroke-width="1.5" stroke-linejoin="round"  opacity="1"/>
<path d="M212.10,323.70 L212.95,327.58 L214.13,341.57 L215.23,353.23 L216.33,356.33 L218.36,369.54 L219.97,374.98 L221.41,380.65 L248.48,380.65 L248.48,382.99 L281.47,382.99" fill="none" stroke="#2a2ab6" stroke-width="1.5" stroke-linejoin="round"  opacity="1"/>
<line x1="244.80" y1="328.10" x2="252.60" y2="328.10" stroke="#d03641" stroke-width="1.4" />
<text x="255.00" y="330.21" font-size="5.85" text-anchor="start" font-weight="normal" fill="#222" stroke="#222" >Isolated BM</text>
<text x="297.20" y="330.21" font-size="5.85" text-anchor="start" font-weight="normal" fill="#222" stroke="#222" >23.7±4.7%</text>
<line x1="244.80" y1="333.80" x2="252.60" y2="333.80" stroke="#2a2ab6" stroke-width="1.4" />
<text x="255.00" y="335.91" font-size="5.85" text-anchor="start" font-weight="normal" fill="#222" stroke="#222" >Combined BM</text>
<text x="297.20" y="335.91" font-size="5.85" text-anchor="start" font-weight="normal" fill="#222" stroke="#222" >22.7±7.4%</text>
<line x1="244.80" y1="339.70" x2="252.60" y2="339.70" stroke="#3b7439" stroke-width="1.4" />
<text x="255.00" y="341.81" font-size="5.85" text-anchor="start" font-weight="normal" fill="#222" stroke="#222" >Isolated CNS</text>
<text x="297.20" y="341.81" font-size="5.85" text-anchor="start" font-weight="normal" fill="#222" stroke="#222" >52.4±6.0%</text>
<line x1="244.80" y1="345.40" x2="252.60" y2="345.40" stroke="#e8e050" stroke-width="1.4" />
<text x="255.00" y="347.51" font-size="5.85" text-anchor="start" font-weight="normal" fill="#222" stroke="#222" >Other</text>
<text x="297.20" y="347.51" font-size="5.85" text-anchor="start" font-weight="normal" fill="#222" stroke="#222" >40.7±10.7%</text>
<text x="297.20" y="353.51" font-size="5.85" text-anchor="start" font-weight="normal" fill="#222" stroke="#222" >p&lt;0.001</text>
<text x="182.20" y="424.46" font-size="4.6" text-anchor="start" font-weight="normal" fill="#222" stroke="#222" >At Risk</text>
<text x="182.20" y="429.71" font-size="4.2" text-anchor="start" font-weight="normal" fill="#222" stroke="#222" >Isolated BM</text>
<text x="212.10" y="429.71" font-size="4.2" text-anchor="middle" font-weight="normal" fill="#222" stroke="#222" >91</text>
<text x="220.56" y="429.71" font-size="4.2" text-anchor="middle" font-weight="normal" fill="#222" stroke="#222" >32</text>
<text x="229.02" y="429.71" font-size="4.2" text-anchor="middle" font-weight="normal" fill="#222" stroke="#222" >21</text>
<text x="237.48" y="429.71" font-size="4.2" text-anchor="middle" font-weight="normal" fill="#222" stroke="#222" >16</text>
<text x="245.94" y="429.71" font-size="4.2" text-anchor="middle" font-weight="normal" fill="#222" stroke="#222" >15</text>
<text x="254.40" y="429.71" font-size="4.2" text-anchor="middle" font-weight="normal" fill="#222" stroke="#222" >12</text>
<text x="262.86" y="429.71" font-size="4.2" text-anchor="middle" font-weight="normal" fill="#222" stroke="#222" >5</text>
<text x="271.32" y="429.71" font-size="4.2" text-anchor="middle" font-weight="normal" fill="#222" stroke="#222" >3</text>
<text x="279.78" y="429.71" font-size="4.2" text-anchor="middle" font-weight="normal" fill="#222" stroke="#222" >3</text>
<text x="288.24" y="429.71" font-size="4.2" text-anchor="middle" font-weight="normal" fill="#222" stroke="#222" >3</text>
<text x="296.70" y="429.71" font-size="4.2" text-anchor="middle" font-weight="normal" fill="#222" stroke="#222" >2</text>
<text x="305.16" y="429.71" font-size="4.2" text-anchor="middle" font-weight="normal" fill="#222" stroke="#222" >0</text>
<text x="313.62" y="429.71" font-size="4.2" text-anchor="middle" font-weight="normal" fill="#222" stroke="#222" >0</text>
<text x="322.08" y="429.71" font-size="4.2" text-anchor="middle" font-weight="normal" fill="#222" stroke="#222" >0</text>
<text x="330.54" y="429.71" font-size="4.2" text-anchor="middle" font-weight="normal" fill="#222" stroke="#222" >0</text>
<text x="182.20" y="433.81" font-size="4.2" text-anchor="start" font-weight="normal" fill="#222" stroke="#222" >Combined BM</text>
<text x="212.10" y="433.81" font-size="4.2" text-anchor="middle" font-weight="normal" fill="#222" stroke="#222" >35</text>
<text x="220.56" y="433.81" font-size="4.2" text-anchor="middle" font-weight="normal" fill="#222" stroke="#222" >11</text>
<text x="229.02" y="433.81" font-size="4.2" text-anchor="middle" font-weight="normal" fill="#222" stroke="#222" >9</text>
<text x="237.48" y="433.81" font-size="4.2" text-anchor="middle" font-weight="normal" fill="#222" stroke="#222" >8</text>
<text x="245.94" y="433.81" font-size="4.2" text-anchor="middle" font-weight="normal" fill="#222" stroke="#222" >7</text>
<text x="254.40" y="433.81" font-size="4.2" text-anchor="middle" font-weight="normal" fill="#222" stroke="#222" >4</text>
<text x="262.86" y="433.81" font-size="4.2" text-anchor="middle" font-weight="normal" fill="#222" stroke="#222" >2</text>
<text x="271.32" y="433.81" font-size="4.2" text-anchor="middle" font-weight="normal" fill="#222" stroke="#222" >1</text>
<text x="279.78" y="433.81" font-size="4.2" text-anchor="middle" font-weight="normal" fill="#222" stroke="#222" >1</text>
<text x="288.24" y="433.81" font-size="4.2" text-anchor="middle" font-weight="normal" fill="#222" stroke="#222" >0</text>
<text x="296.70" y="433.81" font-size="4.2" text-anchor="middle" font-weight="normal" fill="#222" stroke="#222" >0</text>
<text x="305.16" y="433.81" font-size="4.2" text-anchor="middle" font-weight="normal" fill="#222" stroke="#222" >0</text>
<text x="313.62" y="433.81" font-size="4.2" text-anchor="middle" font-weight="normal" fill="#222" stroke="#222" >0</text>
<text x="322.08" y="433.81" font-size="4.2" text-anchor="middle" font-weight="normal" fill="#222" stroke="#222" >0</text>
<text x="330.54" y="433.81" font-size="4.2" text-anchor="middle" font-weight="normal" fill="#222" stroke="#222" >0</text>
<text x="182.20" y="438.31" font-size="4.2" text-anchor="start" font-weight="normal" fill="#222" stroke="#222" >Isolated CNS</text>
<text x="212.10" y="438.31" font-size="4.2" text-anchor="middle" font-weight="normal" fill="#222" stroke="#222" >70</text>
<text x="220.56" y="438.31" font-size="4.2" text-anchor="middle" font-weight="normal" fill="#222" stroke="#222" >51</text>
<text x="229.02" y="438.31" font-size="4.2" text-anchor="middle" font-weight="normal" fill="#222" stroke="#222" >43</text>
<text x="237.48" y="438.31" font-size="4.2" text-anchor="middle" font-weight="normal" fill="#222" stroke="#222" >37</text>
<text x="245.94" y="438.31" font-size="4.2" text-anchor="middle" font-weight="normal" fill="#222" stroke="#222" >34</text>
<text x="254.40" y="438.31" font-size="4.2" text-anchor="middle" font-weight="normal" fill="#222" stroke="#222" >31</text>
<text x="262.86" y="438.31" font-size="4.2" text-anchor="middle" font-weight="normal" fill="#222" stroke="#222" >27</text>
<text x="271.32" y="438.31" font-size="4.2" text-anchor="middle" font-weight="normal" fill="#222" stroke="#222" >20</text>
<text x="279.78" y="438.31" font-size="4.2" text-anchor="middle" font-weight="normal" fill="#222" stroke="#222" >18</text>
<text x="288.24" y="438.31" font-size="4.2" text-anchor="middle" font-weight="normal" fill="#222" stroke="#222" >15</text>
<text x="296.70" y="438.31" font-size="4.2" text-anchor="middle" font-weight="normal" fill="#222" stroke="#222" >8</text>
<text x="305.16" y="438.31" font-size="4.2" text-anchor="middle" font-weight="normal" fill="#222" stroke="#222" >4</text>
<text x="313.62" y="438.31" font-size="4.2" text-anchor="middle" font-weight="normal" fill="#222" stroke="#222" >4</text>
<text x="322.08" y="438.31" font-size="4.2" text-anchor="middle" font-weight="normal" fill="#222" stroke="#222" >2</text>
<text x="330.54" y="438.31" font-size="4.2" text-anchor="middle" font-weight="normal" fill="#222" stroke="#222" >1</text>
<text x="182.20" y="443.01" font-size="4.2" text-anchor="start" font-weight="normal" fill="#222" stroke="#222" >Other</text>
<text x="212.10" y="443.01" font-size="4.2" text-anchor="middle" font-weight="normal" fill="#222" stroke="#222" >31</text>
<text x="220.56" y="443.01" font-size="4.2" text-anchor="middle" font-weight="normal" fill="#222" stroke="#222" >20</text>
<text x="229.02" y="443.01" font-size="4.2" text-anchor="middle" font-weight="normal" fill="#222" stroke="#222" >16</text>
<text x="237.48" y="443.01" font-size="4.2" text-anchor="middle" font-weight="normal" fill="#222" stroke="#222" >11</text>
<text x="245.94" y="443.01" font-size="4.2" text-anchor="middle" font-weight="normal" fill="#222" stroke="#222" >9</text>
<text x="254.40" y="443.01" font-size="4.2" text-anchor="middle" font-weight="normal" fill="#222" stroke="#222" >5</text>
<text x="262.86" y="443.01" font-size="4.2" text-anchor="middle" font-weight="normal" fill="#222" stroke="#222" >4</text>
<text x="271.32" y="443.01" font-size="4.2" text-anchor="middle" font-weight="normal" fill="#222" stroke="#222" >3</text>
<text x="279.78" y="443.01" font-size="4.2" text-anchor="middle" font-weight="normal" fill="#222" stroke="#222" >3</text>
<text x="288.24" y="443.01" font-size="4.2" text-anchor="middle" font-weight="normal" fill="#222" stroke="#222" >2</text>
<text x="296.70" y="443.01" font-size="4.2" text-anchor="middle" font-weight="normal" fill="#222" stroke="#222" >1</text>
<text x="305.16" y="443.01" font-size="4.2" text-anchor="middle" font-weight="normal" fill="#222" stroke="#222" >1</text>
<text x="313.62" y="443.01" font-size="4.2" text-anchor="middle" font-weight="normal" fill="#222" stroke="#222" >0</text>
<text x="322.08" y="443.01" font-size="4.2" text-anchor="middle" font-weight="normal" fill="#222" stroke="#222" >0</text>
<text x="330.54" y="443.01" font-size="4.2" text-anchor="middle" font-weight="normal" fill="#222" stroke="#222" >0</text>
<line x1="395.60" y1="16.30" x2="395.60" y2="104.00" stroke="#3a3a3a" stroke-width="0.9" />
<line x1="395.60" y1="104.00" x2="519.00" y2="104.00" stroke="#3a3a3a" stroke-width="0.9" />
<line x1="393.60" y1="101.30" x2="395.60" y2="101.30" stroke="#3a3a3a" stroke-width="0.9" />
<text x="392.20" y="103.50" font-size="5.0" text-anchor="end" font-weight="normal" fill="#444" stroke="#444" >0.0</text>
<line x1="393.60" y1="93.04" x2="395.60" y2="93.04" stroke="#3a3a3a" stroke-width="0.9" />
<text x="392.20" y="95.24" font-size="5.0" text-anchor="end" font-weight="normal" fill="#444" stroke="#444" >0.1</text>
<line x1="393.60" y1="84.78" x2="395.60" y2="84.78" stroke="#3a3a3a" stroke-width="0.9" />
<text x="392.20" y="86.98" font-size="5.0" text-anchor="end" font-weight="normal" fill="#444" stroke="#444" >0.2</text>
<line x1="393.60" y1="76.52" x2="395.60" y2="76.52" stroke="#3a3a3a" stroke-width="0.9" />
<text x="392.20" y="78.72" font-size="5.0" text-anchor="end" font-weight="normal" fill="#444" stroke="#444" >0.3</text>
<line x1="393.60" y1="68.26" x2="395.60" y2="68.26" stroke="#3a3a3a" stroke-width="0.9" />
<text x="392.20" y="70.46" font-size="5.0" text-anchor="end" font-weight="normal" fill="#444" stroke="#444" >0.4</text>
<line x1="393.60" y1="60.00" x2="395.60" y2="60.00" stroke="#3a3a3a" stroke-width="0.9" />
<text x="392.20" y="62.20" font-size="5.0" text-anchor="end" font-weight="normal" fill="#444" stroke="#444" >0.5</text>
<line x1="393.60" y1="51.74" x2="395.60" y2="51.74" stroke="#3a3a3a" stroke-width="0.9" />
<text x="392.20" y="53.94" font-size="5.0" text-anchor="end" font-weight="normal" fill="#444" stroke="#444" >0.6</text>
<line x1="393.60" y1="43.48" x2="395.60" y2="43.48" stroke="#3a3a3a" stroke-width="0.9" />
<text x="392.20" y="45.68" font-size="5.0" text-anchor="end" font-weight="normal" fill="#444" stroke="#444" >0.7</text>
<line x1="393.60" y1="35.22" x2="395.60" y2="35.22" stroke="#3a3a3a" stroke-width="0.9" />
<text x="392.20" y="37.42" font-size="5.0" text-anchor="end" font-weight="normal" fill="#444" stroke="#444" >0.8</text>
<line x1="393.60" y1="26.96" x2="395.60" y2="26.96" stroke="#3a3a3a" stroke-width="0.9" />
<text x="392.20" y="29.16" font-size="5.0" text-anchor="end" font-weight="normal" fill="#444" stroke="#444" >0.9</text>
<line x1="393.60" y1="18.70" x2="395.60" y2="18.70" stroke="#3a3a3a" stroke-width="0.9" />
<text x="392.20" y="20.90" font-size="5.0" text-anchor="end" font-weight="normal" fill="#444" stroke="#444" >1.0</text>
<line x1="398.80" y1="104.00" x2="398.80" y2="106.00" stroke="#3a3a3a" stroke-width="0.9" />
<text x="398.80" y="113.20" font-size="5.0" text-anchor="middle" font-weight="normal" fill="#444" stroke="#444" >0</text>
<line x1="407.17" y1="104.00" x2="407.17" y2="106.00" stroke="#3a3a3a" stroke-width="0.9" />
<text x="407.17" y="113.20" font-size="5.0" text-anchor="middle" font-weight="normal" fill="#444" stroke="#444" >1</text>
<line x1="415.54" y1="104.00" x2="415.54" y2="106.00" stroke="#3a3a3a" stroke-width="0.9" />
<text x="415.54" y="113.20" font-size="5.0" text-anchor="middle" font-weight="normal" fill="#444" stroke="#444" >2</text>
<line x1="423.91" y1="104.00" x2="423.91" y2="106.00" stroke="#3a3a3a" stroke-width="0.9" />
<text x="423.91" y="113.20" font-size="5.0" text-anchor="middle" font-weight="normal" fill="#444" stroke="#444" >3</text>
<line x1="432.28" y1="104.00" x2="432.28" y2="106.00" stroke="#3a3a3a" stroke-width="0.9" />
<text x="432.28" y="113.20" font-size="5.0" text-anchor="middle" font-weight="normal" fill="#444" stroke="#444" >4</text>
<line x1="440.65" y1="104.00" x2="440.65" y2="106.00" stroke="#3a3a3a" stroke-width="0.9" />
<text x="440.65" y="113.20" font-size="5.0" text-anchor="middle" font-weight="normal" fill="#444" stroke="#444" >5</text>
<line x1="449.02" y1="104.00" x2="449.02" y2="106.00" stroke="#3a3a3a" stroke-width="0.9" />
<text x="449.02" y="113.20" font-size="5.0" text-anchor="middle" font-weight="normal" fill="#444" stroke="#444" >6</text>
<line x1="457.39" y1="104.00" x2="457.39" y2="106.00" stroke="#3a3a3a" stroke-width="0.9" />
<text x="457.39" y="113.20" font-size="5.0" text-anchor="middle" font-weight="normal" fill="#444" stroke="#444" >7</text>
<line x1="465.76" y1="104.00" x2="465.76" y2="106.00" stroke="#3a3a3a" stroke-width="0.9" />
<text x="465.76" y="113.20" font-size="5.0" text-anchor="middle" font-weight="normal" fill="#444" stroke="#444" >8</text>
<line x1="474.13" y1="104.00" x2="474.13" y2="106.00" stroke="#3a3a3a" stroke-width="0.9" />
<text x="474.13" y="113.20" font-size="5.0" text-anchor="middle" font-weight="normal" fill="#444" stroke="#444" >9</text>
<line x1="482.50" y1="104.00" x2="482.50" y2="106.00" stroke="#3a3a3a" stroke-width="0.9" />
<text x="482.50" y="113.20" font-size="5.0" text-anchor="middle" font-weight="normal" fill="#444" stroke="#444" >10</text>
<line x1="490.87" y1="104.00" x2="490.87" y2="106.00" stroke="#3a3a3a" stroke-width="0.9" />
<text x="490.87" y="113.20" font-size="5.0" text-anchor="middle" font-weight="normal" fill="#444" stroke="#444" >11</text>
<line x1="499.24" y1="104.00" x2="499.24" y2="106.00" stroke="#3a3a3a" stroke-width="0.9" />
<text x="499.24" y="113.20" font-size="5.0" text-anchor="middle" font-weight="normal" fill="#444" stroke="#444" >12</text>
<line x1="507.61" y1="104.00" x2="507.61" y2="106.00" stroke="#3a3a3a" stroke-width="0.9" />
<text x="507.61" y="113.20" font-size="5.0" text-anchor="middle" font-weight="normal" fill="#444" stroke="#444" >13</text>
<line x1="515.98" y1="104.00" x2="515.98" y2="106.00" stroke="#3a3a3a" stroke-width="0.9" />
<text x="515.98" y="113.20" font-size="5.0" text-anchor="middle" font-weight="normal" fill="#444" stroke="#444" >14</text>
<text x="458.20" y="118.61" font-size="5.86" text-anchor="middle" font-weight="bold" fill="#111" stroke="#111" >Years from Relapse</text>
<text x="0" y="0" font-size="6.1" font-weight="bold" text-anchor="middle" fill="#111" stroke="#111" transform="translate(378.90,60.00) rotate(-90)">Survival Probability</text>
<text x="352.80" y="6.70" font-size="8.2" text-anchor="start" font-weight="normal" fill="#111"  stroke="#111" style="stroke-width:0.45">G</text>
<path d="M398.80,18.70 L399.64,22.83 L400.47,30.26 L401.73,41.83 L403.40,51.74 L405.33,69.09 L407.50,79.00 L409.68,83.13 L412.19,84.37 L415.54,84.78 L432.28,85.19 L461.57,85.61 L461.57,89.32 L478.31,89.32" fill="none" stroke="#e2e284" stroke-width="1.2" stroke-linejoin="round" stroke-dasharray="3,1" opacity="1"/>
<path d="M398.80,18.70 L402.15,18.70 L402.57,31.09 L403.15,50.91 L404.07,59.50 L411.19,59.50 L411.19,67.02 L465.76,67.02" fill="none" stroke="#222" stroke-width="1.2" stroke-linejoin="round" stroke-dasharray="1,0.8" opacity="1"/>
<path d="M402.15,18.70 L402.57,31.09 L403.15,50.91" fill="none" stroke="#333370" stroke-width="0.9" stroke-linejoin="round"  opacity="1"/>
<path d="M398.80,18.70 L426.92,18.70" fill="none" stroke="#3b7439" stroke-width="1.8" stroke-linejoin="round"  opacity="1"/>
<line x1="413.80" y1="23.40" x2="422.80" y2="23.40" stroke="#3b7439" stroke-width="1.4" />
<text x="425.90" y="25.70" font-size="6.4" text-anchor="start" font-weight="normal" fill="#222" stroke="#222" >ETV6-RUNX1</text>
<text x="476.00" y="25.70" font-size="6.4" text-anchor="start" font-weight="normal" fill="#222" stroke="#222" >No Suff. Fup</text>
<line x1="413.80" y1="30.00" x2="422.80" y2="30.00" stroke="#e2e284" stroke-width="1.4" stroke-dasharray="3,1"/>
<text x="425.90" y="32.30" font-size="6.4" text-anchor="start" font-weight="normal" fill="#222" stroke="#222" >KMT2A-R</text>
<text x="476.00" y="32.30" font-size="6.4" text-anchor="start" font-weight="normal" fill="#222" stroke="#222" >18.3±3.9%</text>
<line x1="413.80" y1="36.60" x2="422.80" y2="36.60" stroke="#222" stroke-width="1.4" stroke-dasharray="1,0.8"/>
<text x="425.90" y="38.90" font-size="6.4" text-anchor="start" font-weight="normal" fill="#222" stroke="#222" >Other/Unknown</text>
<text x="476.00" y="38.90" font-size="6.4" text-anchor="start" font-weight="normal" fill="#222" stroke="#222" >41.7±14.2%</text>
<text x="476.00" y="44.90" font-size="6.4" text-anchor="start" font-weight="normal" fill="#222" stroke="#222" >p=0.060</text>
<text x="361.50" y="126.44" font-size="5.4" text-anchor="start" font-weight="normal" fill="#222" stroke="#222" >At Risk</text>
<text x="361.50" y="131.73" font-size="4.8" text-anchor="start" font-weight="normal" fill="#222" stroke="#222" >ETV6-RUNX1</text>
<text x="398.80" y="131.73" font-size="4.8" text-anchor="middle" font-weight="normal" fill="#222" stroke="#222" >1</text>
<text x="407.17" y="131.73" font-size="4.8" text-anchor="middle" font-weight="normal" fill="#222" stroke="#222" >1</text>
<text x="415.54" y="131.73" font-size="4.8" text-anchor="middle" font-weight="normal" fill="#222" stroke="#222" >1</text>
<text x="423.91" y="131.73" font-size="4.8" text-anchor="middle" font-weight="normal" fill="#222" stroke="#222" >1</text>
<text x="432.28" y="131.73" font-size="4.8" text-anchor="middle" font-weight="normal" fill="#222" stroke="#222" >0</text>
<text x="440.65" y="131.73" font-size="4.8" text-anchor="middle" font-weight="normal" fill="#222" stroke="#222" >0</text>
<text x="449.02" y="131.73" font-size="4.8" text-anchor="middle" font-weight="normal" fill="#222" stroke="#222" >0</text>
<text x="457.39" y="131.73" font-size="4.8" text-anchor="middle" font-weight="normal" fill="#222" stroke="#222" >0</text>
<text x="465.76" y="131.73" font-size="4.8" text-anchor="middle" font-weight="normal" fill="#222" stroke="#222" >0</text>
<text x="474.13" y="131.73" font-size="4.8" text-anchor="middle" font-weight="normal" fill="#222" stroke="#222" >0</text>
<text x="482.50" y="131.73" font-size="4.8" text-anchor="middle" font-weight="normal" fill="#222" stroke="#222" >0</text>
<text x="490.87" y="131.73" font-size="4.8" text-anchor="middle" font-weight="normal" fill="#222" stroke="#222" >0</text>
<text x="499.24" y="131.73" font-size="4.8" text-anchor="middle" font-weight="normal" fill="#222" stroke="#222" >0</text>
<text x="507.61" y="131.73" font-size="4.8" text-anchor="middle" font-weight="normal" fill="#222" stroke="#222" >0</text>
<text x="515.98" y="131.73" font-size="4.8" text-anchor="middle" font-weight="normal" fill="#222" stroke="#222" >0</text>
<text x="361.50" y="137.13" font-size="4.8" text-anchor="start" font-weight="normal" fill="#222" stroke="#222" >KMT2A-R</text>
<text x="398.80" y="137.13" font-size="4.8" text-anchor="middle" font-weight="normal" fill="#222" stroke="#222" >98</text>
<text x="407.17" y="137.13" font-size="4.8" text-anchor="middle" font-weight="normal" fill="#222" stroke="#222" >27</text>
<text x="415.54" y="137.13" font-size="4.8" text-anchor="middle" font-weight="normal" fill="#222" stroke="#222" >20</text>
<text x="423.91" y="137.13" font-size="4.8" text-anchor="middle" font-weight="normal" fill="#222" stroke="#222" >19</text>
<text x="432.28" y="137.13" font-size="4.8" text-anchor="middle" font-weight="normal" fill="#222" stroke="#222" >18</text>
<text x="440.65" y="137.13" font-size="4.8" text-anchor="middle" font-weight="normal" fill="#222" stroke="#222" >13</text>
<text x="449.02" y="137.13" font-size="4.8" text-anchor="middle" font-weight="normal" fill="#222" stroke="#222" >6</text>
<text x="457.39" y="137.13" font-size="4.8" text-anchor="middle" font-weight="normal" fill="#222" stroke="#222" >5</text>
<text x="465.76" y="137.13" font-size="4.8" text-anchor="middle" font-weight="normal" fill="#222" stroke="#222" >3</text>
<text x="474.13" y="137.13" font-size="4.8" text-anchor="middle" font-weight="normal" fill="#222" stroke="#222" >2</text>
<text x="482.50" y="137.13" font-size="4.8" text-anchor="middle" font-weight="normal" fill="#222" stroke="#222" >0</text>
<text x="490.87" y="137.13" font-size="4.8" text-anchor="middle" font-weight="normal" fill="#222" stroke="#222" >0</text>
<text x="499.24" y="137.13" font-size="4.8" text-anchor="middle" font-weight="normal" fill="#222" stroke="#222" >0</text>
<text x="507.61" y="137.13" font-size="4.8" text-anchor="middle" font-weight="normal" fill="#222" stroke="#222" >0</text>
<text x="515.98" y="137.13" font-size="4.8" text-anchor="middle" font-weight="normal" fill="#222" stroke="#222" >0</text>
<text x="361.50" y="142.53" font-size="4.8" text-anchor="start" font-weight="normal" fill="#222" stroke="#222" >Other/Unknown</text>
<text x="398.80" y="142.53" font-size="4.8" text-anchor="middle" font-weight="normal" fill="#222" stroke="#222" >12</text>
<text x="407.17" y="142.53" font-size="4.8" text-anchor="middle" font-weight="normal" fill="#222" stroke="#222" >6</text>
<text x="415.54" y="142.53" font-size="4.8" text-anchor="middle" font-weight="normal" fill="#222" stroke="#222" >5</text>
<text x="423.91" y="142.53" font-size="4.8" text-anchor="middle" font-weight="normal" fill="#222" stroke="#222" >5</text>
<text x="432.28" y="142.53" font-size="4.8" text-anchor="middle" font-weight="normal" fill="#222" stroke="#222" >4</text>
<text x="440.65" y="142.53" font-size="4.8" text-anchor="middle" font-weight="normal" fill="#222" stroke="#222" >4</text>
<text x="449.02" y="142.53" font-size="4.8" text-anchor="middle" font-weight="normal" fill="#222" stroke="#222" >3</text>
<text x="457.39" y="142.53" font-size="4.8" text-anchor="middle" font-weight="normal" fill="#222" stroke="#222" >1</text>
<text x="465.76" y="142.53" font-size="4.8" text-anchor="middle" font-weight="normal" fill="#222" stroke="#222" >1</text>
<text x="474.13" y="142.53" font-size="4.8" text-anchor="middle" font-weight="normal" fill="#222" stroke="#222" >0</text>
<text x="482.50" y="142.53" font-size="4.8" text-anchor="middle" font-weight="normal" fill="#222" stroke="#222" >0</text>
<text x="490.87" y="142.53" font-size="4.8" text-anchor="middle" font-weight="normal" fill="#222" stroke="#222" >0</text>
<text x="499.24" y="142.53" font-size="4.8" text-anchor="middle" font-weight="normal" fill="#222" stroke="#222" >0</text>
<text x="507.61" y="142.53" font-size="4.8" text-anchor="middle" font-weight="normal" fill="#222" stroke="#222" >0</text>
<text x="515.98" y="142.53" font-size="4.8" text-anchor="middle" font-weight="normal" fill="#222" stroke="#222" >0</text>
<line x1="379.70" y1="171.40" x2="379.70" y2="255.30" stroke="#3a3a3a" stroke-width="0.9" />
<line x1="379.70" y1="255.30" x2="513.00" y2="255.30" stroke="#3a3a3a" stroke-width="0.9" />
<line x1="377.70" y1="253.10" x2="379.70" y2="253.10" stroke="#3a3a3a" stroke-width="0.9" />
<text x="376.30" y="255.30" font-size="5.0" text-anchor="end" font-weight="normal" fill="#444" stroke="#444" >0.0</text>
<line x1="377.70" y1="245.15" x2="379.70" y2="245.15" stroke="#3a3a3a" stroke-width="0.9" />
<text x="376.30" y="247.35" font-size="5.0" text-anchor="end" font-weight="normal" fill="#444" stroke="#444" >0.1</text>
<line x1="377.70" y1="237.20" x2="379.70" y2="237.20" stroke="#3a3a3a" stroke-width="0.9" />
<text x="376.30" y="239.40" font-size="5.0" text-anchor="end" font-weight="normal" fill="#444" stroke="#444" >0.2</text>
<line x1="377.70" y1="229.25" x2="379.70" y2="229.25" stroke="#3a3a3a" stroke-width="0.9" />
<text x="376.30" y="231.45" font-size="5.0" text-anchor="end" font-weight="normal" fill="#444" stroke="#444" >0.3</text>
<line x1="377.70" y1="221.30" x2="379.70" y2="221.30" stroke="#3a3a3a" stroke-width="0.9" />
<text x="376.30" y="223.50" font-size="5.0" text-anchor="end" font-weight="normal" fill="#444" stroke="#444" >0.4</text>
<line x1="377.70" y1="213.35" x2="379.70" y2="213.35" stroke="#3a3a3a" stroke-width="0.9" />
<text x="376.30" y="215.55" font-size="5.0" text-anchor="end" font-weight="normal" fill="#444" stroke="#444" >0.5</text>
<line x1="377.70" y1="205.40" x2="379.70" y2="205.40" stroke="#3a3a3a" stroke-width="0.9" />
<text x="376.30" y="207.60" font-size="5.0" text-anchor="end" font-weight="normal" fill="#444" stroke="#444" >0.6</text>
<line x1="377.70" y1="197.45" x2="379.70" y2="197.45" stroke="#3a3a3a" stroke-width="0.9" />
<text x="376.30" y="199.65" font-size="5.0" text-anchor="end" font-weight="normal" fill="#444" stroke="#444" >0.7</text>
<line x1="377.70" y1="189.50" x2="379.70" y2="189.50" stroke="#3a3a3a" stroke-width="0.9" />
<text x="376.30" y="191.70" font-size="5.0" text-anchor="end" font-weight="normal" fill="#444" stroke="#444" >0.8</text>
<line x1="377.70" y1="181.55" x2="379.70" y2="181.55" stroke="#3a3a3a" stroke-width="0.9" />
<text x="376.30" y="183.75" font-size="5.0" text-anchor="end" font-weight="normal" fill="#444" stroke="#444" >0.9</text>
<line x1="377.70" y1="173.60" x2="379.70" y2="173.60" stroke="#3a3a3a" stroke-width="0.9" />
<text x="376.30" y="175.80" font-size="5.0" text-anchor="end" font-weight="normal" fill="#444" stroke="#444" >1.0</text>
<line x1="382.60" y1="255.30" x2="382.60" y2="257.30" stroke="#3a3a3a" stroke-width="0.9" />
<text x="382.60" y="263.60" font-size="5.0" text-anchor="middle" font-weight="normal" fill="#444" stroke="#444" >0</text>
<line x1="391.75" y1="255.30" x2="391.75" y2="257.30" stroke="#3a3a3a" stroke-width="0.9" />
<text x="391.75" y="263.60" font-size="5.0" text-anchor="middle" font-weight="normal" fill="#444" stroke="#444" >1</text>
<line x1="400.90" y1="255.30" x2="400.90" y2="257.30" stroke="#3a3a3a" stroke-width="0.9" />
<text x="400.90" y="263.60" font-size="5.0" text-anchor="middle" font-weight="normal" fill="#444" stroke="#444" >2</text>
<line x1="410.05" y1="255.30" x2="410.05" y2="257.30" stroke="#3a3a3a" stroke-width="0.9" />
<text x="410.05" y="263.60" font-size="5.0" text-anchor="middle" font-weight="normal" fill="#444" stroke="#444" >3</text>
<line x1="419.20" y1="255.30" x2="419.20" y2="257.30" stroke="#3a3a3a" stroke-width="0.9" />
<text x="419.20" y="263.60" font-size="5.0" text-anchor="middle" font-weight="normal" fill="#444" stroke="#444" >4</text>
<line x1="428.35" y1="255.30" x2="428.35" y2="257.30" stroke="#3a3a3a" stroke-width="0.9" />
<text x="428.35" y="263.60" font-size="5.0" text-anchor="middle" font-weight="normal" fill="#444" stroke="#444" >5</text>
<line x1="437.50" y1="255.30" x2="437.50" y2="257.30" stroke="#3a3a3a" stroke-width="0.9" />
<text x="437.50" y="263.60" font-size="5.0" text-anchor="middle" font-weight="normal" fill="#444" stroke="#444" >6</text>
<line x1="446.65" y1="255.30" x2="446.65" y2="257.30" stroke="#3a3a3a" stroke-width="0.9" />
<text x="446.65" y="263.60" font-size="5.0" text-anchor="middle" font-weight="normal" fill="#444" stroke="#444" >7</text>
<line x1="455.80" y1="255.30" x2="455.80" y2="257.30" stroke="#3a3a3a" stroke-width="0.9" />
<text x="455.80" y="263.60" font-size="5.0" text-anchor="middle" font-weight="normal" fill="#444" stroke="#444" >8</text>
<line x1="464.95" y1="255.30" x2="464.95" y2="257.30" stroke="#3a3a3a" stroke-width="0.9" />
<text x="464.95" y="263.60" font-size="5.0" text-anchor="middle" font-weight="normal" fill="#444" stroke="#444" >9</text>
<line x1="474.10" y1="255.30" x2="474.10" y2="257.30" stroke="#3a3a3a" stroke-width="0.9" />
<text x="474.10" y="263.60" font-size="5.0" text-anchor="middle" font-weight="normal" fill="#444" stroke="#444" >10</text>
<line x1="483.25" y1="255.30" x2="483.25" y2="257.30" stroke="#3a3a3a" stroke-width="0.9" />
<text x="483.25" y="263.60" font-size="5.0" text-anchor="middle" font-weight="normal" fill="#444" stroke="#444" >11</text>
<line x1="492.40" y1="255.30" x2="492.40" y2="257.30" stroke="#3a3a3a" stroke-width="0.9" />
<text x="492.40" y="263.60" font-size="5.0" text-anchor="middle" font-weight="normal" fill="#444" stroke="#444" >12</text>
<line x1="501.55" y1="255.30" x2="501.55" y2="257.30" stroke="#3a3a3a" stroke-width="0.9" />
<text x="501.55" y="263.60" font-size="5.0" text-anchor="middle" font-weight="normal" fill="#444" stroke="#444" >13</text>
<line x1="510.70" y1="255.30" x2="510.70" y2="257.30" stroke="#3a3a3a" stroke-width="0.9" />
<text x="510.70" y="263.60" font-size="5.0" text-anchor="middle" font-weight="normal" fill="#444" stroke="#444" >14</text>
<text x="447.20" y="270.41" font-size="5.86" text-anchor="middle" font-weight="bold" fill="#111" stroke="#111" >Years from Relapse</text>
<text x="0" y="0" font-size="6.1" font-weight="bold" text-anchor="middle" fill="#111" stroke="#111" transform="translate(363.50,213.00) rotate(-90)">Survival Probability</text>
<text x="352.90" y="161.80" font-size="8.2" text-anchor="start" font-weight="normal" fill="#111"  stroke="#111" style="stroke-width:0.45">H</text>
<path d="M382.60,173.60 L388.36,173.60 L388.36,193.08 L422.86,193.08 L422.86,212.56 L429.27,212.56" fill="none" stroke="#3b7439" stroke-width="1.5" stroke-linejoin="round"  opacity="1"/>
<path d="M382.60,173.60 L383.52,175.99 L384.43,177.57 L385.35,179.16 L386.99,183.94 L388.27,190.29 L389.74,197.45 L392.39,202.22 L393.58,207.78 L396.33,211.44 L452.14,211.44 L452.14,221.78 L465.50,221.78" fill="none" stroke="#2a2ab6" stroke-width="1.6" stroke-linejoin="round"  opacity="1"/>
<path d="M382.60,173.60 L384.34,184.97 L385.62,203.81 L386.99,220.11 L388.27,230.84 L389.74,238.00 L392.39,240.38 L395.14,243.96 L403.65,244.35 L403.65,245.15 L469.53,245.15" fill="none" stroke="#d03641" stroke-width="1.5" stroke-linejoin="round"  opacity="1"/>
<line x1="422.40" y1="178.10" x2="432.10" y2="178.10" stroke="#d03641" stroke-width="1.4" />
<text x="433.90" y="180.40" font-size="6.4" text-anchor="start" font-weight="normal" fill="#222" stroke="#222" >Early</text>
<text x="473.40" y="180.40" font-size="6.4" text-anchor="start" font-weight="normal" fill="#222" stroke="#222" >9.0±3.2%</text>
<line x1="422.40" y1="184.00" x2="432.10" y2="184.00" stroke="#2a2ab6" stroke-width="1.4" />
<text x="433.90" y="186.30" font-size="6.4" text-anchor="start" font-weight="normal" fill="#222" stroke="#222" >Intermediate</text>
<text x="473.40" y="186.30" font-size="6.4" text-anchor="start" font-weight="normal" fill="#222" stroke="#222" >51.7±9.3%</text>
<line x1="422.40" y1="190.30" x2="432.10" y2="190.30" stroke="#3b7439" stroke-width="1.4" />
<text x="433.90" y="192.60" font-size="6.4" text-anchor="start" font-weight="normal" fill="#222" stroke="#222" >Late</text>
<text x="473.40" y="192.60" font-size="6.4" text-anchor="start" font-weight="normal" fill="#222" stroke="#222" >50.0±25.0%</text>
<text x="473.40" y="198.90" font-size="6.4" text-anchor="start" font-weight="normal" fill="#222" stroke="#222" >p&lt;0.001</text>
<text x="364.10" y="276.94" font-size="5.4" text-anchor="start" font-weight="normal" fill="#222" stroke="#222" >At Risk</text>
<text x="364.10" y="282.64" font-size="4.55" text-anchor="start" font-weight="normal" fill="#222" stroke="#222" >Early</text>
<text x="382.60" y="282.64" font-size="4.55" text-anchor="middle" font-weight="normal" fill="#222" stroke="#222" >78</text>
<text x="391.75" y="282.64" font-size="4.55" text-anchor="middle" font-weight="normal" fill="#222" stroke="#222" >13</text>
<text x="400.90" y="282.64" font-size="4.55" text-anchor="middle" font-weight="normal" fill="#222" stroke="#222" >8</text>
<text x="410.05" y="282.64" font-size="4.55" text-anchor="middle" font-weight="normal" fill="#222" stroke="#222" >7</text>
<text x="419.20" y="282.64" font-size="4.55" text-anchor="middle" font-weight="normal" fill="#222" stroke="#222" >6</text>
<text x="428.35" y="282.64" font-size="4.55" text-anchor="middle" font-weight="normal" fill="#222" stroke="#222" >5</text>
<text x="437.50" y="282.64" font-size="4.55" text-anchor="middle" font-weight="normal" fill="#222" stroke="#222" >2</text>
<text x="446.65" y="282.64" font-size="4.55" text-anchor="middle" font-weight="normal" fill="#222" stroke="#222" >2</text>
<text x="455.80" y="282.64" font-size="4.55" text-anchor="middle" font-weight="normal" fill="#222" stroke="#222" >2</text>
<text x="464.95" y="282.64" font-size="4.55" text-anchor="middle" font-weight="normal" fill="#222" stroke="#222" >2</text>
<text x="474.10" y="282.64" font-size="4.55" text-anchor="middle" font-weight="normal" fill="#222" stroke="#222" >1</text>
<text x="483.25" y="282.64" font-size="4.55" text-anchor="middle" font-weight="normal" fill="#222" stroke="#222" >0</text>
<text x="492.40" y="282.64" font-size="4.55" text-anchor="middle" font-weight="normal" fill="#222" stroke="#222" >0</text>
<text x="501.55" y="282.64" font-size="4.55" text-anchor="middle" font-weight="normal" fill="#222" stroke="#222" >0</text>
<text x="510.70" y="282.64" font-size="4.55" text-anchor="middle" font-weight="normal" fill="#222" stroke="#222" >0</text>
<text x="364.10" y="287.84" font-size="4.55" text-anchor="start" font-weight="normal" fill="#222" stroke="#222" >Inter</text>
<text x="382.60" y="287.84" font-size="4.55" text-anchor="middle" font-weight="normal" fill="#222" stroke="#222" >29</text>
<text x="391.75" y="287.84" font-size="4.55" text-anchor="middle" font-weight="normal" fill="#222" stroke="#222" >18</text>
<text x="400.90" y="287.84" font-size="4.55" text-anchor="middle" font-weight="normal" fill="#222" stroke="#222" >15</text>
<text x="410.05" y="287.84" font-size="4.55" text-anchor="middle" font-weight="normal" fill="#222" stroke="#222" >15</text>
<text x="419.20" y="287.84" font-size="4.55" text-anchor="middle" font-weight="normal" fill="#222" stroke="#222" >13</text>
<text x="428.35" y="287.84" font-size="4.55" text-anchor="middle" font-weight="normal" fill="#222" stroke="#222" >11</text>
<text x="437.50" y="287.84" font-size="4.55" text-anchor="middle" font-weight="normal" fill="#222" stroke="#222" >7</text>
<text x="446.65" y="287.84" font-size="4.55" text-anchor="middle" font-weight="normal" fill="#222" stroke="#222" >4</text>
<text x="455.80" y="287.84" font-size="4.55" text-anchor="middle" font-weight="normal" fill="#222" stroke="#222" >2</text>
<text x="464.95" y="287.84" font-size="4.55" text-anchor="middle" font-weight="normal" fill="#222" stroke="#222" >1</text>
<text x="474.10" y="287.84" font-size="4.55" text-anchor="middle" font-weight="normal" fill="#222" stroke="#222" >0</text>
<text x="483.25" y="287.84" font-size="4.55" text-anchor="middle" font-weight="normal" fill="#222" stroke="#222" >0</text>
<text x="492.40" y="287.84" font-size="4.55" text-anchor="middle" font-weight="normal" fill="#222" stroke="#222" >0</text>
<text x="501.55" y="287.84" font-size="4.55" text-anchor="middle" font-weight="normal" fill="#222" stroke="#222" >0</text>
<text x="510.70" y="287.84" font-size="4.55" text-anchor="middle" font-weight="normal" fill="#222" stroke="#222" >0</text>
<text x="364.10" y="292.84" font-size="4.55" text-anchor="start" font-weight="normal" fill="#222" stroke="#222" >Late</text>
<text x="382.60" y="292.84" font-size="4.55" text-anchor="middle" font-weight="normal" fill="#222" stroke="#222" >4</text>
<text x="391.75" y="292.84" font-size="4.55" text-anchor="middle" font-weight="normal" fill="#222" stroke="#222" >3</text>
<text x="400.90" y="292.84" font-size="4.55" text-anchor="middle" font-weight="normal" fill="#222" stroke="#222" >3</text>
<text x="410.05" y="292.84" font-size="4.55" text-anchor="middle" font-weight="normal" fill="#222" stroke="#222" >3</text>
<text x="419.20" y="292.84" font-size="4.55" text-anchor="middle" font-weight="normal" fill="#222" stroke="#222" >3</text>
<text x="428.35" y="292.84" font-size="4.55" text-anchor="middle" font-weight="normal" fill="#222" stroke="#222" >1</text>
<text x="437.50" y="292.84" font-size="4.55" text-anchor="middle" font-weight="normal" fill="#222" stroke="#222" >0</text>
<text x="446.65" y="292.84" font-size="4.55" text-anchor="middle" font-weight="normal" fill="#222" stroke="#222" >0</text>
<text x="455.80" y="292.84" font-size="4.55" text-anchor="middle" font-weight="normal" fill="#222" stroke="#222" >0</text>
<text x="464.95" y="292.84" font-size="4.55" text-anchor="middle" font-weight="normal" fill="#222" stroke="#222" >0</text>
<text x="474.10" y="292.84" font-size="4.55" text-anchor="middle" font-weight="normal" fill="#222" stroke="#222" >0</text>
<text x="483.25" y="292.84" font-size="4.55" text-anchor="middle" font-weight="normal" fill="#222" stroke="#222" >0</text>
<text x="492.40" y="292.84" font-size="4.55" text-anchor="middle" font-weight="normal" fill="#222" stroke="#222" >0</text>
<text x="501.55" y="292.84" font-size="4.55" text-anchor="middle" font-weight="normal" fill="#222" stroke="#222" >0</text>
<text x="510.70" y="292.84" font-size="4.55" text-anchor="middle" font-weight="normal" fill="#222" stroke="#222" >0</text>
<line x1="392.40" y1="321.80" x2="392.40" y2="402.00" stroke="#3a3a3a" stroke-width="0.9" />
<line x1="392.40" y1="402.00" x2="514.00" y2="402.00" stroke="#3a3a3a" stroke-width="0.9" />
<line x1="390.40" y1="399.40" x2="392.40" y2="399.40" stroke="#3a3a3a" stroke-width="0.9" />
<text x="389.00" y="401.60" font-size="5.0" text-anchor="end" font-weight="normal" fill="#444" stroke="#444" >0.0</text>
<line x1="390.40" y1="391.89" x2="392.40" y2="391.89" stroke="#3a3a3a" stroke-width="0.9" />
<text x="389.00" y="394.09" font-size="5.0" text-anchor="end" font-weight="normal" fill="#444" stroke="#444" >0.1</text>
<line x1="390.40" y1="384.38" x2="392.40" y2="384.38" stroke="#3a3a3a" stroke-width="0.9" />
<text x="389.00" y="386.58" font-size="5.0" text-anchor="end" font-weight="normal" fill="#444" stroke="#444" >0.2</text>
<line x1="390.40" y1="376.87" x2="392.40" y2="376.87" stroke="#3a3a3a" stroke-width="0.9" />
<text x="389.00" y="379.07" font-size="5.0" text-anchor="end" font-weight="normal" fill="#444" stroke="#444" >0.3</text>
<line x1="390.40" y1="369.36" x2="392.40" y2="369.36" stroke="#3a3a3a" stroke-width="0.9" />
<text x="389.00" y="371.56" font-size="5.0" text-anchor="end" font-weight="normal" fill="#444" stroke="#444" >0.4</text>
<line x1="390.40" y1="361.85" x2="392.40" y2="361.85" stroke="#3a3a3a" stroke-width="0.9" />
<text x="389.00" y="364.05" font-size="5.0" text-anchor="end" font-weight="normal" fill="#444" stroke="#444" >0.5</text>
<line x1="390.40" y1="354.34" x2="392.40" y2="354.34" stroke="#3a3a3a" stroke-width="0.9" />
<text x="389.00" y="356.54" font-size="5.0" text-anchor="end" font-weight="normal" fill="#444" stroke="#444" >0.6</text>
<line x1="390.40" y1="346.83" x2="392.40" y2="346.83" stroke="#3a3a3a" stroke-width="0.9" />
<text x="389.00" y="349.03" font-size="5.0" text-anchor="end" font-weight="normal" fill="#444" stroke="#444" >0.7</text>
<line x1="390.40" y1="339.32" x2="392.40" y2="339.32" stroke="#3a3a3a" stroke-width="0.9" />
<text x="389.00" y="341.52" font-size="5.0" text-anchor="end" font-weight="normal" fill="#444" stroke="#444" >0.8</text>
<line x1="390.40" y1="331.81" x2="392.40" y2="331.81" stroke="#3a3a3a" stroke-width="0.9" />
<text x="389.00" y="334.01" font-size="5.0" text-anchor="end" font-weight="normal" fill="#444" stroke="#444" >0.9</text>
<line x1="390.40" y1="324.30" x2="392.40" y2="324.30" stroke="#3a3a3a" stroke-width="0.9" />
<text x="389.00" y="326.50" font-size="5.0" text-anchor="end" font-weight="normal" fill="#444" stroke="#444" >1.0</text>
<line x1="395.30" y1="402.00" x2="395.30" y2="404.00" stroke="#3a3a3a" stroke-width="0.9" />
<text x="395.30" y="410.90" font-size="5.0" text-anchor="middle" font-weight="normal" fill="#444" stroke="#444" >0</text>
<line x1="403.55" y1="402.00" x2="403.55" y2="404.00" stroke="#3a3a3a" stroke-width="0.9" />
<text x="403.55" y="410.90" font-size="5.0" text-anchor="middle" font-weight="normal" fill="#444" stroke="#444" >1</text>
<line x1="411.80" y1="402.00" x2="411.80" y2="404.00" stroke="#3a3a3a" stroke-width="0.9" />
<text x="411.80" y="410.90" font-size="5.0" text-anchor="middle" font-weight="normal" fill="#444" stroke="#444" >2</text>
<line x1="420.05" y1="402.00" x2="420.05" y2="404.00" stroke="#3a3a3a" stroke-width="0.9" />
<text x="420.05" y="410.90" font-size="5.0" text-anchor="middle" font-weight="normal" fill="#444" stroke="#444" >3</text>
<line x1="428.30" y1="402.00" x2="428.30" y2="404.00" stroke="#3a3a3a" stroke-width="0.9" />
<text x="428.30" y="410.90" font-size="5.0" text-anchor="middle" font-weight="normal" fill="#444" stroke="#444" >4</text>
<line x1="436.55" y1="402.00" x2="436.55" y2="404.00" stroke="#3a3a3a" stroke-width="0.9" />
<text x="436.55" y="410.90" font-size="5.0" text-anchor="middle" font-weight="normal" fill="#444" stroke="#444" >5</text>
<line x1="444.80" y1="402.00" x2="444.80" y2="404.00" stroke="#3a3a3a" stroke-width="0.9" />
<text x="444.80" y="410.90" font-size="5.0" text-anchor="middle" font-weight="normal" fill="#444" stroke="#444" >6</text>
<line x1="453.05" y1="402.00" x2="453.05" y2="404.00" stroke="#3a3a3a" stroke-width="0.9" />
<text x="453.05" y="410.90" font-size="5.0" text-anchor="middle" font-weight="normal" fill="#444" stroke="#444" >7</text>
<line x1="461.30" y1="402.00" x2="461.30" y2="404.00" stroke="#3a3a3a" stroke-width="0.9" />
<text x="461.30" y="410.90" font-size="5.0" text-anchor="middle" font-weight="normal" fill="#444" stroke="#444" >8</text>
<line x1="469.55" y1="402.00" x2="469.55" y2="404.00" stroke="#3a3a3a" stroke-width="0.9" />
<text x="469.55" y="410.90" font-size="5.0" text-anchor="middle" font-weight="normal" fill="#444" stroke="#444" >9</text>
<line x1="477.80" y1="402.00" x2="477.80" y2="404.00" stroke="#3a3a3a" stroke-width="0.9" />
<text x="477.80" y="410.90" font-size="5.0" text-anchor="middle" font-weight="normal" fill="#444" stroke="#444" >10</text>
<line x1="486.05" y1="402.00" x2="486.05" y2="404.00" stroke="#3a3a3a" stroke-width="0.9" />
<text x="486.05" y="410.90" font-size="5.0" text-anchor="middle" font-weight="normal" fill="#444" stroke="#444" >11</text>
<line x1="494.30" y1="402.00" x2="494.30" y2="404.00" stroke="#3a3a3a" stroke-width="0.9" />
<text x="494.30" y="410.90" font-size="5.0" text-anchor="middle" font-weight="normal" fill="#444" stroke="#444" >12</text>
<line x1="502.55" y1="402.00" x2="502.55" y2="404.00" stroke="#3a3a3a" stroke-width="0.9" />
<text x="502.55" y="410.90" font-size="5.0" text-anchor="middle" font-weight="normal" fill="#444" stroke="#444" >13</text>
<line x1="510.80" y1="402.00" x2="510.80" y2="404.00" stroke="#3a3a3a" stroke-width="0.9" />
<text x="510.80" y="410.90" font-size="5.0" text-anchor="middle" font-weight="normal" fill="#444" stroke="#444" >14</text>
<text x="454.20" y="416.31" font-size="5.86" text-anchor="middle" font-weight="bold" fill="#111" stroke="#111" >Years from Relapse</text>
<text x="0" y="0" font-size="6.1" font-weight="bold" text-anchor="middle" fill="#111" stroke="#111" transform="translate(378.20,362.00) rotate(-90)">Survival Probability</text>
<text x="352.90" y="312.80" font-size="8.2" text-anchor="start" font-weight="normal" fill="#111"  stroke="#111" style="stroke-width:0.45">I</text>
<path d="M395.30,324.30 L395.47,324.30 L395.47,333.84 L399.18,333.84 L399.18,344.05 L401.98,344.05 L401.98,349.53 L403.80,349.53 L403.80,354.11 L405.69,354.11 L405.69,364.33 L472.85,364.33" fill="none" stroke="#3b7439" stroke-width="1.5" stroke-linejoin="round"  opacity="1"/>
<path d="M395.30,324.30 L396.12,337.07 L398.60,349.83 L401.32,358.09 L402.64,364.85 L403.96,373.87 L414.28,374.62 L414.28,380.62 L459.65,380.62" fill="none" stroke="#e8e050" stroke-width="1.4" stroke-linejoin="round"  opacity="1"/>
<path d="M395.30,324.30 L395.96,341.57 L398.60,353.59 L399.92,370.11 L401.32,376.87 L403.96,376.87 L403.96,381.75 L430.78,381.75" fill="none" stroke="#2a2ab6" stroke-width="1.5" stroke-linejoin="round"  opacity="1"/>
<path d="M395.30,324.30 L396.12,335.56 L398.60,358.85 L400.50,373.87 L402.64,380.62 L405.20,384.00 L407.68,386.18 L430.78,386.63 L430.78,388.13 L457.18,388.13 L457.18,393.77 L465.84,393.77" fill="none" stroke="#d03641" stroke-width="1.5" stroke-linejoin="round"  opacity="1"/>
<line x1="421.60" y1="328.60" x2="430.00" y2="328.60" stroke="#d03641" stroke-width="1.4" />
<text x="432.80" y="330.76" font-size="6.0" text-anchor="start" font-weight="normal" fill="#222" stroke="#222" >Isolated BM</text>
<text x="475.00" y="330.76" font-size="6.0" text-anchor="start" font-weight="normal" fill="#222" stroke="#222" >15.4±4.3%</text>
<line x1="421.60" y1="334.50" x2="430.00" y2="334.50" stroke="#2a2ab6" stroke-width="1.4" />
<text x="432.80" y="336.66" font-size="6.0" text-anchor="start" font-weight="normal" fill="#222" stroke="#222" >Combined BM</text>
<text x="475.00" y="336.66" font-size="6.0" text-anchor="start" font-weight="normal" fill="#222" stroke="#222" >No Suff. Fup</text>
<line x1="421.60" y1="340.20" x2="430.00" y2="340.20" stroke="#3b7439" stroke-width="1.4" />
<text x="432.80" y="342.36" font-size="6.0" text-anchor="start" font-weight="normal" fill="#222" stroke="#222" >Isolated CNS</text>
<text x="475.00" y="342.36" font-size="6.0" text-anchor="start" font-weight="normal" fill="#222" stroke="#222" >46.7±12.9%</text>
<line x1="421.60" y1="346.20" x2="430.00" y2="346.20" stroke="#e8e050" stroke-width="1.4" />
<text x="432.80" y="348.36" font-size="6.0" text-anchor="start" font-weight="normal" fill="#222" stroke="#222" >Other</text>
<text x="475.00" y="348.36" font-size="6.0" text-anchor="start" font-weight="normal" fill="#222" stroke="#222" >25.0±12.5%</text>
<text x="475.00" y="354.96" font-size="6.0" text-anchor="start" font-weight="normal" fill="#222" stroke="#222" >p=0.030</text>
<text x="360.60" y="422.91" font-size="5.3" text-anchor="start" font-weight="normal" fill="#222" stroke="#222" >At Risk</text>
<text x="360.60" y="428.16" font-size="4.6" text-anchor="start" font-weight="normal" fill="#222" stroke="#222" >Isolated BM</text>
<text x="395.30" y="428.16" font-size="4.6" text-anchor="middle" font-weight="normal" fill="#222" stroke="#222" >71</text>
<text x="403.55" y="428.16" font-size="4.6" text-anchor="middle" font-weight="normal" fill="#222" stroke="#222" >16</text>
<text x="411.80" y="428.16" font-size="4.6" text-anchor="middle" font-weight="normal" fill="#222" stroke="#222" >12</text>
<text x="420.05" y="428.16" font-size="4.6" text-anchor="middle" font-weight="normal" fill="#222" stroke="#222" >12</text>
<text x="428.30" y="428.16" font-size="4.6" text-anchor="middle" font-weight="normal" fill="#222" stroke="#222" >11</text>
<text x="436.55" y="428.16" font-size="4.6" text-anchor="middle" font-weight="normal" fill="#222" stroke="#222" >8</text>
<text x="444.80" y="428.16" font-size="4.6" text-anchor="middle" font-weight="normal" fill="#222" stroke="#222" >3</text>
<text x="453.05" y="428.16" font-size="4.6" text-anchor="middle" font-weight="normal" fill="#222" stroke="#222" >2</text>
<text x="461.30" y="428.16" font-size="4.6" text-anchor="middle" font-weight="normal" fill="#222" stroke="#222" >1</text>
<text x="469.55" y="428.16" font-size="4.6" text-anchor="middle" font-weight="normal" fill="#222" stroke="#222" >0</text>
<text x="477.80" y="428.16" font-size="4.6" text-anchor="middle" font-weight="normal" fill="#222" stroke="#222" >0</text>
<text x="486.05" y="428.16" font-size="4.6" text-anchor="middle" font-weight="normal" fill="#222" stroke="#222" >0</text>
<text x="494.30" y="428.16" font-size="4.6" text-anchor="middle" font-weight="normal" fill="#222" stroke="#222" >0</text>
<text x="502.55" y="428.16" font-size="4.6" text-anchor="middle" font-weight="normal" fill="#222" stroke="#222" >0</text>
<text x="510.80" y="428.16" font-size="4.6" text-anchor="middle" font-weight="normal" fill="#222" stroke="#222" >0</text>
<text x="360.60" y="433.66" font-size="4.6" text-anchor="start" font-weight="normal" fill="#222" stroke="#222" >Combined BM</text>
<text x="395.30" y="433.66" font-size="4.6" text-anchor="middle" font-weight="normal" fill="#222" stroke="#222" >13</text>
<text x="403.55" y="433.66" font-size="4.6" text-anchor="middle" font-weight="normal" fill="#222" stroke="#222" >4</text>
<text x="411.80" y="433.66" font-size="4.6" text-anchor="middle" font-weight="normal" fill="#222" stroke="#222" >3</text>
<text x="420.05" y="433.66" font-size="4.6" text-anchor="middle" font-weight="normal" fill="#222" stroke="#222" >3</text>
<text x="428.30" y="433.66" font-size="4.6" text-anchor="middle" font-weight="normal" fill="#222" stroke="#222" >1</text>
<text x="436.55" y="433.66" font-size="4.6" text-anchor="middle" font-weight="normal" fill="#222" stroke="#222" >0</text>
<text x="444.80" y="433.66" font-size="4.6" text-anchor="middle" font-weight="normal" fill="#222" stroke="#222" >0</text>
<text x="453.05" y="433.66" font-size="4.6" text-anchor="middle" font-weight="normal" fill="#222" stroke="#222" >0</text>
<text x="461.30" y="433.66" font-size="4.6" text-anchor="middle" font-weight="normal" fill="#222" stroke="#222" >0</text>
<text x="469.55" y="433.66" font-size="4.6" text-anchor="middle" font-weight="normal" fill="#222" stroke="#222" >0</text>
<text x="477.80" y="433.66" font-size="4.6" text-anchor="middle" font-weight="normal" fill="#222" stroke="#222" >0</text>
<text x="486.05" y="433.66" font-size="4.6" text-anchor="middle" font-weight="normal" fill="#222" stroke="#222" >0</text>
<text x="494.30" y="433.66" font-size="4.6" text-anchor="middle" font-weight="normal" fill="#222" stroke="#222" >0</text>
<text x="502.55" y="433.66" font-size="4.6" text-anchor="middle" font-weight="normal" fill="#222" stroke="#222" >0</text>
<text x="510.80" y="433.66" font-size="4.6" text-anchor="middle" font-weight="normal" fill="#222" stroke="#222" >0</text>
<text x="360.60" y="438.86" font-size="4.6" text-anchor="start" font-weight="normal" fill="#222" stroke="#222" >Isolated CNS</text>
<text x="395.30" y="438.86" font-size="4.6" text-anchor="middle" font-weight="normal" fill="#222" stroke="#222" >15</text>
<text x="403.55" y="438.86" font-size="4.6" text-anchor="middle" font-weight="normal" fill="#222" stroke="#222" >9</text>
<text x="411.80" y="438.86" font-size="4.6" text-anchor="middle" font-weight="normal" fill="#222" stroke="#222" >7</text>
<text x="420.05" y="438.86" font-size="4.6" text-anchor="middle" font-weight="normal" fill="#222" stroke="#222" >7</text>
<text x="428.30" y="438.86" font-size="4.6" text-anchor="middle" font-weight="normal" fill="#222" stroke="#222" >7</text>
<text x="436.55" y="438.86" font-size="4.6" text-anchor="middle" font-weight="normal" fill="#222" stroke="#222" >7</text>
<text x="444.80" y="438.86" font-size="4.6" text-anchor="middle" font-weight="normal" fill="#222" stroke="#222" >6</text>
<text x="453.05" y="438.86" font-size="4.6" text-anchor="middle" font-weight="normal" fill="#222" stroke="#222" >3</text>
<text x="461.30" y="438.86" font-size="4.6" text-anchor="middle" font-weight="normal" fill="#222" stroke="#222" >3</text>
<text x="469.55" y="438.86" font-size="4.6" text-anchor="middle" font-weight="normal" fill="#222" stroke="#222" >2</text>
<text x="477.80" y="438.86" font-size="4.6" text-anchor="middle" font-weight="normal" fill="#222" stroke="#222" >0</text>
<text x="486.05" y="438.86" font-size="4.6" text-anchor="middle" font-weight="normal" fill="#222" stroke="#222" >0</text>
<text x="494.30" y="438.86" font-size="4.6" text-anchor="middle" font-weight="normal" fill="#222" stroke="#222" >0</text>
<text x="502.55" y="438.86" font-size="4.6" text-anchor="middle" font-weight="normal" fill="#222" stroke="#222" >0</text>
<text x="510.80" y="438.86" font-size="4.6" text-anchor="middle" font-weight="normal" fill="#222" stroke="#222" >0</text>
<text x="360.60" y="443.96" font-size="4.6" text-anchor="start" font-weight="normal" fill="#222" stroke="#222" >Other</text>
<text x="395.30" y="443.96" font-size="4.6" text-anchor="middle" font-weight="normal" fill="#222" stroke="#222" >12</text>
<text x="403.55" y="443.96" font-size="4.6" text-anchor="middle" font-weight="normal" fill="#222" stroke="#222" >5</text>
<text x="411.80" y="443.96" font-size="4.6" text-anchor="middle" font-weight="normal" fill="#222" stroke="#222" >4</text>
<text x="420.05" y="443.96" font-size="4.6" text-anchor="middle" font-weight="normal" fill="#222" stroke="#222" >3</text>
<text x="428.30" y="443.96" font-size="4.6" text-anchor="middle" font-weight="normal" fill="#222" stroke="#222" >3</text>
<text x="436.55" y="443.96" font-size="4.6" text-anchor="middle" font-weight="normal" fill="#222" stroke="#222" >2</text>
<text x="444.80" y="443.96" font-size="4.6" text-anchor="middle" font-weight="normal" fill="#222" stroke="#222" >1</text>
<text x="453.05" y="443.96" font-size="4.6" text-anchor="middle" font-weight="normal" fill="#222" stroke="#222" >1</text>
<text x="461.30" y="443.96" font-size="4.6" text-anchor="middle" font-weight="normal" fill="#222" stroke="#222" >0</text>
<text x="469.55" y="443.96" font-size="4.6" text-anchor="middle" font-weight="normal" fill="#222" stroke="#222" >0</text>
<text x="477.80" y="443.96" font-size="4.6" text-anchor="middle" font-weight="normal" fill="#222" stroke="#222" >0</text>
<text x="486.05" y="443.96" font-size="4.6" text-anchor="middle" font-weight="normal" fill="#222" stroke="#222" >0</text>
<text x="494.30" y="443.96" font-size="4.6" text-anchor="middle" font-weight="normal" fill="#222" stroke="#222" >0</text>
<text x="502.55" y="443.96" font-size="4.6" text-anchor="middle" font-weight="normal" fill="#222" stroke="#222" >0</text>
<text x="510.80" y="443.96" font-size="4.6" text-anchor="middle" font-weight="normal" fill="#222" stroke="#222" >0</text>
</g>
</svg></body></html>
